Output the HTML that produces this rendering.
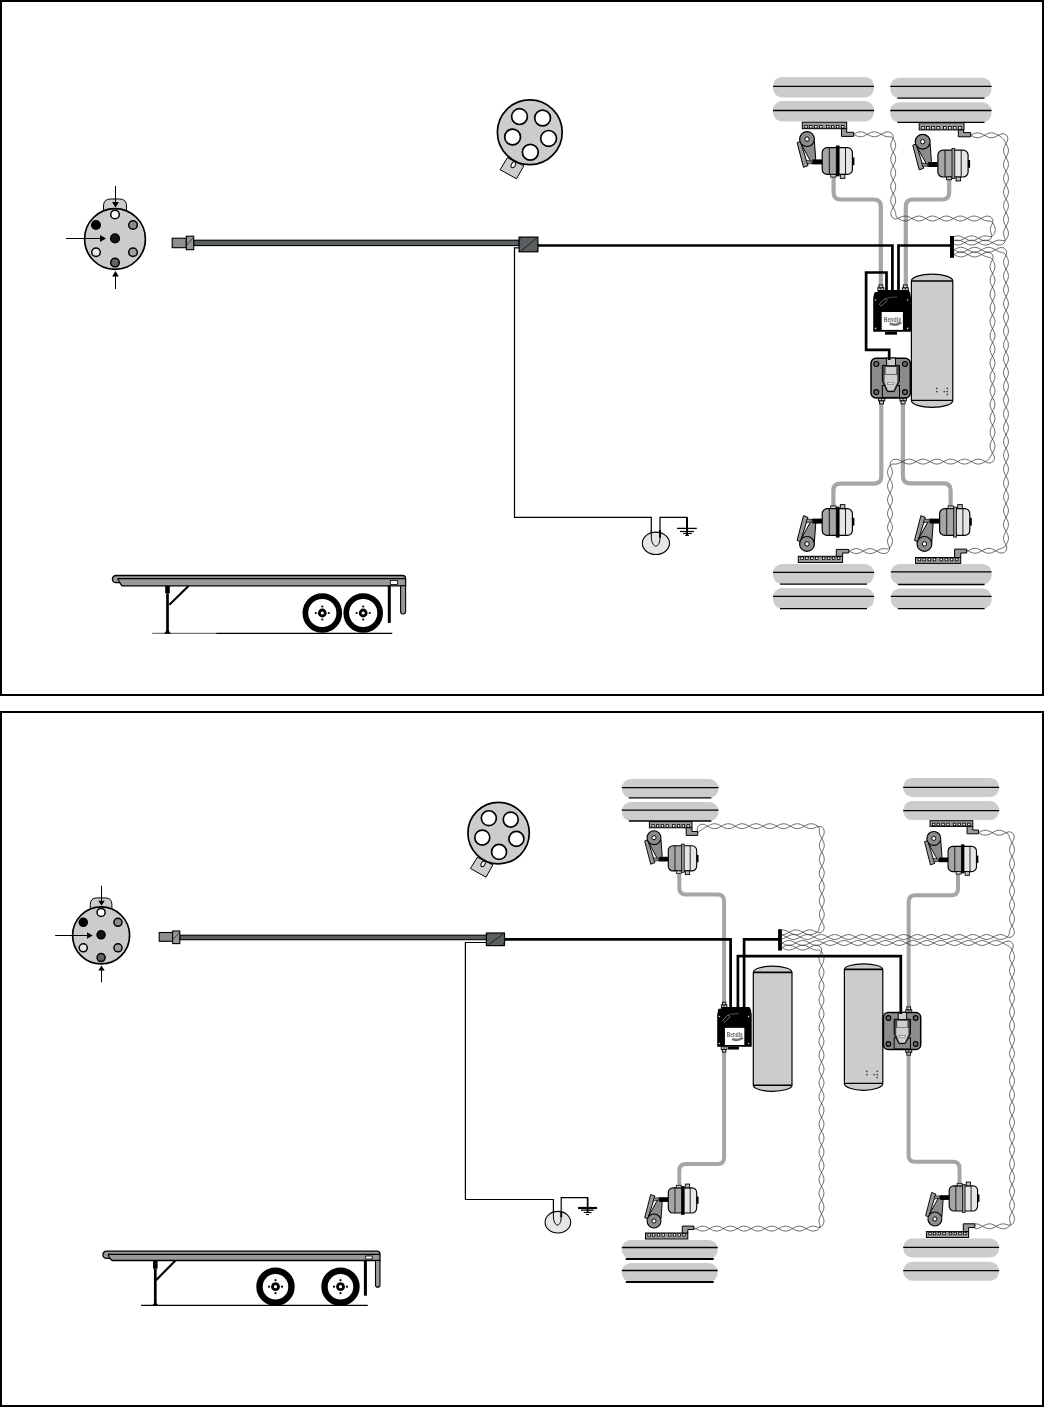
<!DOCTYPE html>
<html><head><meta charset="utf-8"><title>ABS diagram</title>
<style>html,body{margin:0;padding:0;background:#fff;}body{width:1044px;height:1407px;overflow:hidden;font-family:"Liberation Sans",sans-serif;}svg{display:block;}</style>
</head><body>
<svg width="1044" height="1407" viewBox="0 0 1044 1407">
<defs><filter id="nf" x="-20%" y="-50%" width="140%" height="200%"><feOffset dx="0" dy="0"/></filter></defs>
<rect x="0" y="0" width="1044" height="1407" fill="#fff"/>
<rect x="1" y="1" width="1042" height="694" fill="none" stroke="#000" stroke-width="2"/>
<rect x="1" y="712" width="1042" height="694" fill="none" stroke="#000" stroke-width="2"/>
<path d="M103.5 214 V206 Q103.5 199 110.5 199 H119.5 Q126.5 199 126.5 206 V214 Z" fill="#cccccc" stroke="#000" stroke-width="1"/>
<circle cx="115" cy="239" r="30.4" fill="#cccccc" stroke="#000" stroke-width="1.7"/>
<circle cx="115" cy="214.5" r="4.3" fill="#ffffff" stroke="#000" stroke-width="1.5"/>
<circle cx="96" cy="225" r="4.3" fill="#000000" stroke="#000" stroke-width="1.5"/>
<circle cx="133" cy="225" r="4.3" fill="#8c8c8c" stroke="#000" stroke-width="1.5"/>
<circle cx="96" cy="252.2" r="4.3" fill="#e8e8e8" stroke="#000" stroke-width="1.5"/>
<circle cx="133" cy="252.2" r="4.3" fill="#a0a0a0" stroke="#000" stroke-width="1.5"/>
<circle cx="115" cy="262.6" r="4.3" fill="#5f6363" stroke="#000" stroke-width="1.5"/>
<circle cx="115" cy="238.4" r="4.3" fill="#101818" stroke="#000" stroke-width="1.5"/>
<line x1="115.5" y1="186" x2="115.5" y2="203" stroke="#000" stroke-width="1"/>
<polygon points="112.1,202 118.9,202 115.5,207.5" fill="#000"/>
<line x1="66" y1="238.5" x2="101" y2="238.5" stroke="#000" stroke-width="1"/>
<polygon points="100,235.1 100,241.9 106,238.5" fill="#000"/>
<line x1="115.5" y1="289" x2="115.5" y2="275" stroke="#000" stroke-width="1"/>
<polygon points="112.1,276.5 118.9,276.5 115.5,271" fill="#000"/>
<polygon points="500.1,169.7 516.5,178.8 523.8,165.9 507.4,157.7" fill="#cccccc" stroke="#000" stroke-width="1"/>
<ellipse cx="513.4" cy="164.8" rx="3.2" ry="2" transform="rotate(-60 513.4 164.8)" fill="#fff" stroke="#000" stroke-width="0.9"/>
<circle cx="529.8" cy="132.3" r="32.4" fill="#cccccc" stroke="#000" stroke-width="1.7"/>
<circle cx="519.5" cy="116.6" r="7.9" fill="#fff" stroke="#000" stroke-width="1.7"/>
<circle cx="542.6" cy="118" r="7.9" fill="#fff" stroke="#000" stroke-width="1.7"/>
<circle cx="512.6" cy="137" r="7.9" fill="#fff" stroke="#000" stroke-width="1.7"/>
<circle cx="548.6" cy="138.4" r="7.9" fill="#fff" stroke="#000" stroke-width="1.7"/>
<circle cx="530.3" cy="152.2" r="7.9" fill="#fff" stroke="#000" stroke-width="1.7"/>
<rect x="193.7" y="240.2" width="325.4" height="5.4" fill="#5a6061" stroke="#000" stroke-width="1.1"/>
<rect x="172.2" y="238.2" width="14.1" height="9.5" fill="#8e8e8e" stroke="#000" stroke-width="1.1"/>
<rect x="186.3" y="236.2" width="7.4" height="13.5" fill="#969696" stroke="#000" stroke-width="1.1"/>
<line x1="186.8" y1="244.95" x2="193.2" y2="237.7" stroke="#000" stroke-width="0.6"/>
<rect x="519.1" y="237.1" width="18.8" height="14.7" fill="#5a6061" stroke="#000" stroke-width="1.2"/>
<line x1="521.1" y1="251" x2="536.9" y2="237.9" stroke="#000" stroke-width="0.7"/>
<line x1="519.7" y1="239.6" x2="521.6" y2="237.7" stroke="#000" stroke-width="0.5"/>
<line x1="535.4" y1="251.2" x2="537.3" y2="249.3" stroke="#000" stroke-width="0.5"/>
<path d="M519 247.8 H514.5 V517.4 H651.3 V536" fill="none" stroke="#000" stroke-width="1.2"/>
<path d="M660 536 V517.4 H687 V535.5" fill="none" stroke="#000" stroke-width="1.2"/>
<line x1="687" y1="517.4" x2="687" y2="535.5" stroke="#000" stroke-width="2"/>
<ellipse cx="655.9" cy="543.3" rx="13.6" ry="11.2" fill="#e6e6e6" stroke="#000" stroke-width="1.1"/>
<path d="M651.3 530 V537.7 C651.6 543.2 654.3 546.4 655.65 546.2 C658.5 546 660 542.2 660 537.2" fill="none" stroke="#000" stroke-width="1"/>
<line x1="660" y1="530" x2="660" y2="537.7" stroke="#000" stroke-width="1.9"/>
<line x1="677.1" y1="528.4" x2="696.8" y2="528.4" stroke="#000" stroke-width="1.3"/>
<line x1="680" y1="531.5" x2="694" y2="531.5" stroke="#000" stroke-width="1.2"/>
<line x1="683.2" y1="533.5" x2="691.9" y2="533.5" stroke="#000" stroke-width="1.1"/>
<line x1="685.2" y1="535.4" x2="689" y2="535.4" stroke="#000" stroke-width="1.1"/>
<line x1="152.2" y1="633.3" x2="216.2" y2="633.3" stroke="#777" stroke-width="1.2"/>
<line x1="216.2" y1="633.3" x2="392.3" y2="633.3" stroke="#000" stroke-width="1.3"/>
<path d="M116 575.5 H402.6 Q405.6 575.5 405.6 578.5 V585.8 H122 L119.7 582.7 H116 A3.6 3.6 0 0 1 116 575.5 Z" fill="#999999" stroke="#000" stroke-width="1.3"/>
<line x1="117.5" y1="578.6" x2="405.6" y2="578.6" stroke="#000" stroke-width="1.1"/>
<line x1="117.8" y1="578.6" x2="119.8" y2="582.7" stroke="#000" stroke-width="1.1"/>
<path d="M400.6 585.8 V611.5 A2.5 2.5 0 0 0 405.6 611.5 V585.8 Z" fill="#999999" stroke="#000" stroke-width="1.1"/>
<rect x="390.3" y="580.4" width="7.3" height="4" fill="#fff" stroke="#000" stroke-width="0.8"/>
<line x1="389.3" y1="585.8" x2="389.3" y2="622.9" stroke="#000" stroke-width="3"/>
<rect x="165.2" y="585.8" width="4.6" height="7.6" fill="#000"/>
<line x1="167.5" y1="593.4" x2="167.5" y2="631.3" stroke="#000" stroke-width="2.7"/>
<line x1="169.4" y1="604.8" x2="188.5" y2="586" stroke="#000" stroke-width="2.1"/>
<polygon points="164,633.8 171,633.8 167.5,629.3" fill="#000"/>
<circle cx="322.3" cy="613" r="16.95" fill="#fff" stroke="#000" stroke-width="5.7"/>
<circle cx="322.3" cy="613" r="4.4" fill="#000"/>
<circle cx="322.3" cy="613" r="1.6" fill="#fff"/>
<circle cx="322.3" cy="606.5" r="1.1" fill="#000"/>
<circle cx="322.3" cy="619.5" r="1.1" fill="#000"/>
<circle cx="315.8" cy="613" r="1.1" fill="#000"/>
<circle cx="328.8" cy="613" r="1.1" fill="#000"/>
<circle cx="363.2" cy="613" r="16.95" fill="#fff" stroke="#000" stroke-width="5.7"/>
<circle cx="363.2" cy="613" r="4.4" fill="#000"/>
<circle cx="363.2" cy="613" r="1.6" fill="#fff"/>
<circle cx="363.2" cy="606.5" r="1.1" fill="#000"/>
<circle cx="363.2" cy="619.5" r="1.1" fill="#000"/>
<circle cx="356.7" cy="613" r="1.1" fill="#000"/>
<circle cx="369.7" cy="613" r="1.1" fill="#000"/>
<rect x="773" y="76.9" width="101" height="20.5" rx="9" fill="#cccccc"/>
<rect x="773" y="101" width="101" height="20.5" rx="9" fill="#cccccc"/>
<line x1="773" y1="86.4" x2="874" y2="86.4" stroke="#000" stroke-width="1.3"/>
<line x1="773" y1="110.5" x2="874" y2="110.5" stroke="#000" stroke-width="1.3"/>
<rect x="890.3" y="77.8" width="101.2" height="20.4" rx="9" fill="#cccccc"/>
<rect x="890.3" y="102.2" width="101.2" height="20.1" rx="9" fill="#cccccc"/>
<line x1="890.3" y1="86.4" x2="991.5" y2="86.4" stroke="#000" stroke-width="1.3"/>
<line x1="897.3" y1="98.2" x2="984.5" y2="98.2" stroke="#000" stroke-width="1.3"/>
<line x1="890.3" y1="110.5" x2="991.5" y2="110.5" stroke="#000" stroke-width="1.3"/>
<line x1="897.3" y1="122.3" x2="984.5" y2="122.3" stroke="#000" stroke-width="1.3"/>
<rect x="773" y="564" width="101" height="20.1" rx="9" fill="#cccccc"/>
<rect x="773" y="588.1" width="101" height="20.5" rx="9" fill="#cccccc"/>
<line x1="773" y1="572.4" x2="874" y2="572.4" stroke="#000" stroke-width="1.3"/>
<line x1="780" y1="584.1" x2="867" y2="584.1" stroke="#000" stroke-width="1.3"/>
<line x1="773" y1="596.4" x2="874" y2="596.4" stroke="#000" stroke-width="1.3"/>
<line x1="780" y1="608.6" x2="867" y2="608.6" stroke="#000" stroke-width="1.3"/>
<rect x="890.8" y="563.9" width="100.8" height="20.6" rx="9" fill="#cccccc"/>
<rect x="890.8" y="588.5" width="100.8" height="20.2" rx="9" fill="#cccccc"/>
<line x1="890.8" y1="571.9" x2="991.6" y2="571.9" stroke="#000" stroke-width="1.3"/>
<line x1="897.8" y1="584.5" x2="984.6" y2="584.5" stroke="#000" stroke-width="1.3"/>
<line x1="890.8" y1="596.4" x2="991.6" y2="596.4" stroke="#000" stroke-width="1.3"/>
<line x1="897.8" y1="608.7" x2="984.6" y2="608.7" stroke="#000" stroke-width="1.3"/>
<path d="M833.6 177 L833.6 192.5 Q833.6 199.5 840.6 199.5 L873.8 199.5 Q880.8 199.5 880.8 206.5 L880.8 287" fill="none" stroke="#a6a6a6" stroke-width="4.2"/>
<path d="M949.2 179 L949.2 192.5 Q949.2 199.5 942.2 199.5 L912.8 199.5 Q905.8 199.5 905.8 206.5 L905.8 287" fill="none" stroke="#a6a6a6" stroke-width="4.2"/>
<path d="M881.3 400 L881.3 476.6 Q881.3 483.6 874.3 483.6 L840.4 483.6 Q833.4 483.6 833.4 490.6 L833.4 507" fill="none" stroke="#a6a6a6" stroke-width="4.2"/>
<path d="M902.9 400 L902.9 476.3 Q902.9 483.3 909.9 483.3 L943.6 483.3 Q950.6 483.3 950.6 490.3 L950.6 507" fill="none" stroke="#a6a6a6" stroke-width="4.2"/>
<rect x="802.3" y="122.2" width="44.4" height="6.5" fill="#999999" stroke="#000" stroke-width="1"/>
<rect x="804.8" y="125.4" width="2.6" height="2.6" fill="#fff" stroke="#000" stroke-width="0.8"/>
<rect x="809.6" y="125.4" width="2.6" height="2.6" fill="#fff" stroke="#000" stroke-width="0.8"/>
<rect x="814.6" y="125.4" width="2.6" height="2.6" fill="#fff" stroke="#000" stroke-width="0.8"/>
<rect x="819.6" y="125.4" width="2.6" height="2.6" fill="#fff" stroke="#000" stroke-width="0.8"/>
<rect x="826.4" y="125.4" width="2.6" height="2.6" fill="#fff" stroke="#000" stroke-width="0.8"/>
<rect x="831.4" y="125.4" width="2.6" height="2.6" fill="#fff" stroke="#000" stroke-width="0.8"/>
<rect x="836.4" y="125.4" width="2.6" height="2.6" fill="#fff" stroke="#000" stroke-width="0.8"/>
<rect x="841.4" y="125.4" width="2.6" height="2.6" fill="#fff" stroke="#000" stroke-width="0.8"/>
<polygon points="841.5,128.7 846.7,128.7 846.7,132.3 853.6,132.3 853.6,136.4 841.5,136.4" fill="#999999" stroke="#000" stroke-width="1"/>
<rect x="919.2" y="122.8" width="44.8" height="7.1" fill="#999999" stroke="#000" stroke-width="1"/>
<rect x="921.72" y="126.58" width="2.62" height="2.62" fill="#fff" stroke="#000" stroke-width="0.8"/>
<rect x="926.57" y="126.58" width="2.62" height="2.62" fill="#fff" stroke="#000" stroke-width="0.8"/>
<rect x="931.61" y="126.58" width="2.62" height="2.62" fill="#fff" stroke="#000" stroke-width="0.8"/>
<rect x="936.66" y="126.58" width="2.62" height="2.62" fill="#fff" stroke="#000" stroke-width="0.8"/>
<rect x="943.52" y="126.58" width="2.62" height="2.62" fill="#fff" stroke="#000" stroke-width="0.8"/>
<rect x="948.56" y="126.58" width="2.62" height="2.62" fill="#fff" stroke="#000" stroke-width="0.8"/>
<rect x="953.61" y="126.58" width="2.62" height="2.62" fill="#fff" stroke="#000" stroke-width="0.8"/>
<rect x="958.65" y="126.58" width="2.62" height="2.62" fill="#fff" stroke="#000" stroke-width="0.8"/>
<polygon points="958.3,129.9 963.6,129.9 963.6,132.6 970.7,132.6 970.7,136.8 958.3,136.8" fill="#999999" stroke="#000" stroke-width="1"/>
<rect x="798.3" y="556.3" width="44.3" height="6.2" fill="#999999" stroke="#000" stroke-width="1"/>
<rect x="800.79" y="557" width="2.59" height="2.59" fill="#fff" stroke="#000" stroke-width="0.8"/>
<rect x="805.58" y="557" width="2.59" height="2.59" fill="#fff" stroke="#000" stroke-width="0.8"/>
<rect x="810.57" y="557" width="2.59" height="2.59" fill="#fff" stroke="#000" stroke-width="0.8"/>
<rect x="815.56" y="557" width="2.59" height="2.59" fill="#fff" stroke="#000" stroke-width="0.8"/>
<rect x="822.35" y="557" width="2.59" height="2.59" fill="#fff" stroke="#000" stroke-width="0.8"/>
<rect x="827.33" y="557" width="2.59" height="2.59" fill="#fff" stroke="#000" stroke-width="0.8"/>
<rect x="832.32" y="557" width="2.59" height="2.59" fill="#fff" stroke="#000" stroke-width="0.8"/>
<rect x="837.31" y="557" width="2.59" height="2.59" fill="#fff" stroke="#000" stroke-width="0.8"/>
<polygon points="836.3,556.3 842.6,556.3 842.6,553 848.7,553 848.7,549.4 836.3,549.4" fill="#999999" stroke="#000" stroke-width="1"/>
<rect x="915.5" y="557.5" width="45.2" height="5.9" fill="#999999" stroke="#000" stroke-width="1"/>
<rect x="918.05" y="558.2" width="2.65" height="2.65" fill="#fff" stroke="#000" stroke-width="0.8"/>
<rect x="922.93" y="558.2" width="2.65" height="2.65" fill="#fff" stroke="#000" stroke-width="0.8"/>
<rect x="928.02" y="558.2" width="2.65" height="2.65" fill="#fff" stroke="#000" stroke-width="0.8"/>
<rect x="933.11" y="558.2" width="2.65" height="2.65" fill="#fff" stroke="#000" stroke-width="0.8"/>
<rect x="940.03" y="558.2" width="2.65" height="2.65" fill="#fff" stroke="#000" stroke-width="0.8"/>
<rect x="945.12" y="558.2" width="2.65" height="2.65" fill="#fff" stroke="#000" stroke-width="0.8"/>
<rect x="950.21" y="558.2" width="2.65" height="2.65" fill="#fff" stroke="#000" stroke-width="0.8"/>
<rect x="955.3" y="558.2" width="2.65" height="2.65" fill="#fff" stroke="#000" stroke-width="0.8"/>
<polygon points="954.6,557.5 960.7,557.5 960.7,553 966.7,553 966.7,549.1 954.6,549.1" fill="#999999" stroke="#000" stroke-width="1"/>
<g transform="translate(807 139.1) scale(1 1)">
<polygon points="-9.9,3.5 -6.6,2.3 1,26.5 -3.5,28.2" fill="#9a9a9a" stroke="#000" stroke-width="1"/>
<path d="M-5.6 5.6 L4.6 23.9 Q8 26.5 8.7 19.7 L7.4 1.8 Z" fill="#8c8c8c" stroke="#000" stroke-width="1"/>
<polygon points="-1,21.3 5,22 5,24.6 0,24.6" fill="#8c8c8c" stroke="#000" stroke-width="0.7"/>
<circle cx="0" cy="0" r="7.4" fill="#8c8c8c" stroke="#000" stroke-width="1.2"/>
<circle cx="0" cy="0" r="2.2" fill="#fff" stroke="#000" stroke-width="1"/>
<rect x="5.5" y="20.3" width="10.1" height="5" fill="#000"/>
<rect x="15.2" y="8.5" width="30.2" height="26.8" rx="5" fill="#e6e6e6"/>
<path d="M20.2 8.5 H30 V35.3 H20.2 Q15.2 35.3 15.2 30.3 V13.5 Q15.2 8.5 20.2 8.5 Z" fill="#a6a6a6"/>
<rect x="15.2" y="8.5" width="30.2" height="26.8" rx="5" fill="none" stroke="#000" stroke-width="1.2"/>
<line x1="22.3" y1="8.5" x2="22.3" y2="35.3" stroke="#000" stroke-width="0.9"/>
<line x1="38.5" y1="8.5" x2="38.5" y2="35.3" stroke="#000" stroke-width="0.9"/>
<rect x="29.3" y="6.8" width="2.8" height="30" fill="#000" stroke="#000" stroke-width="0.8"/>
<rect x="45.4" y="18.3" width="2" height="7.8" fill="#000"/>
<rect x="23.7" y="35.3" width="5.3" height="2.7" fill="#cccccc" stroke="#000" stroke-width="0.8"/>
<rect x="33.3" y="35.3" width="4.6" height="4" fill="#bbb" stroke="#000" stroke-width="0.9"/>
</g>
<g transform="translate(922.7 141.7) scale(1 1)">
<polygon points="-9.9,3.5 -6.6,2.3 1,26.5 -3.5,28.2" fill="#9a9a9a" stroke="#000" stroke-width="1"/>
<path d="M-5.6 5.6 L4.6 23.9 Q8 26.5 8.7 19.7 L7.4 1.8 Z" fill="#8c8c8c" stroke="#000" stroke-width="1"/>
<polygon points="-1,21.3 5,22 5,24.6 0,24.6" fill="#8c8c8c" stroke="#000" stroke-width="0.7"/>
<circle cx="0" cy="0" r="7.4" fill="#8c8c8c" stroke="#000" stroke-width="1.2"/>
<circle cx="0" cy="0" r="2.2" fill="#fff" stroke="#000" stroke-width="1"/>
<rect x="5.5" y="20.3" width="10.1" height="5" fill="#000"/>
<rect x="15.2" y="8.5" width="30.2" height="26.8" rx="5" fill="#e6e6e6"/>
<path d="M20.2 8.5 H30 V35.3 H20.2 Q15.2 35.3 15.2 30.3 V13.5 Q15.2 8.5 20.2 8.5 Z" fill="#a6a6a6"/>
<rect x="15.2" y="8.5" width="30.2" height="26.8" rx="5" fill="none" stroke="#000" stroke-width="1.2"/>
<line x1="22.3" y1="8.5" x2="22.3" y2="35.3" stroke="#000" stroke-width="0.9"/>
<line x1="38.5" y1="8.5" x2="38.5" y2="35.3" stroke="#000" stroke-width="0.9"/>
<rect x="29.3" y="6.8" width="2.8" height="30" fill="#999" stroke="#000" stroke-width="0.8"/>
<rect x="45.4" y="18.3" width="2" height="7.8" fill="#000"/>
<rect x="23.7" y="35.3" width="5.3" height="2.7" fill="#cccccc" stroke="#000" stroke-width="0.8"/>
<rect x="33.3" y="35.3" width="4.6" height="4" fill="#bbb" stroke="#000" stroke-width="0.9"/>
</g>
<g transform="translate(807 543.9) scale(1 -1)">
<polygon points="-9.9,3.5 -6.6,2.3 1,26.5 -3.5,28.2" fill="#9a9a9a" stroke="#000" stroke-width="1"/>
<path d="M-5.6 5.6 L4.6 23.9 Q8 26.5 8.7 19.7 L7.4 1.8 Z" fill="#8c8c8c" stroke="#000" stroke-width="1"/>
<polygon points="-1,21.3 5,22 5,24.6 0,24.6" fill="#8c8c8c" stroke="#000" stroke-width="0.7"/>
<circle cx="0" cy="0" r="7.4" fill="#8c8c8c" stroke="#000" stroke-width="1.2"/>
<circle cx="0" cy="0" r="2.2" fill="#fff" stroke="#000" stroke-width="1"/>
<rect x="5.5" y="20.3" width="10.1" height="5" fill="#000"/>
<rect x="15.2" y="8.5" width="30.2" height="26.8" rx="5" fill="#e6e6e6"/>
<path d="M20.2 8.5 H30 V35.3 H20.2 Q15.2 35.3 15.2 30.3 V13.5 Q15.2 8.5 20.2 8.5 Z" fill="#a6a6a6"/>
<rect x="15.2" y="8.5" width="30.2" height="26.8" rx="5" fill="none" stroke="#000" stroke-width="1.2"/>
<line x1="22.3" y1="8.5" x2="22.3" y2="35.3" stroke="#000" stroke-width="0.9"/>
<line x1="38.5" y1="8.5" x2="38.5" y2="35.3" stroke="#000" stroke-width="0.9"/>
<rect x="29.3" y="6.8" width="2.8" height="30" fill="#000" stroke="#000" stroke-width="0.8"/>
<rect x="45.4" y="18.3" width="2" height="7.8" fill="#000"/>
<rect x="23.7" y="35.3" width="5.3" height="2.7" fill="#cccccc" stroke="#000" stroke-width="0.8"/>
<rect x="33.3" y="35.3" width="4.6" height="4" fill="#bbb" stroke="#000" stroke-width="0.9"/>
</g>
<g transform="translate(924.4 543.9) scale(1 -1)">
<polygon points="-9.9,3.5 -6.6,2.3 1,26.5 -3.5,28.2" fill="#9a9a9a" stroke="#000" stroke-width="1"/>
<path d="M-5.6 5.6 L4.6 23.9 Q8 26.5 8.7 19.7 L7.4 1.8 Z" fill="#8c8c8c" stroke="#000" stroke-width="1"/>
<polygon points="-1,21.3 5,22 5,24.6 0,24.6" fill="#8c8c8c" stroke="#000" stroke-width="0.7"/>
<circle cx="0" cy="0" r="7.4" fill="#8c8c8c" stroke="#000" stroke-width="1.2"/>
<circle cx="0" cy="0" r="2.2" fill="#fff" stroke="#000" stroke-width="1"/>
<rect x="5.5" y="20.3" width="10.1" height="5" fill="#000"/>
<rect x="15.2" y="8.5" width="30.2" height="26.8" rx="5" fill="#e6e6e6"/>
<path d="M20.2 8.5 H30 V35.3 H20.2 Q15.2 35.3 15.2 30.3 V13.5 Q15.2 8.5 20.2 8.5 Z" fill="#a6a6a6"/>
<rect x="15.2" y="8.5" width="30.2" height="26.8" rx="5" fill="none" stroke="#000" stroke-width="1.2"/>
<line x1="22.3" y1="8.5" x2="22.3" y2="35.3" stroke="#000" stroke-width="0.9"/>
<line x1="38.5" y1="8.5" x2="38.5" y2="35.3" stroke="#000" stroke-width="0.9"/>
<rect x="29.3" y="6.8" width="2.8" height="30" fill="#999" stroke="#000" stroke-width="0.8"/>
<rect x="45.4" y="18.3" width="2" height="7.8" fill="#000"/>
<rect x="23.7" y="35.3" width="5.3" height="2.7" fill="#cccccc" stroke="#000" stroke-width="0.8"/>
<rect x="33.3" y="35.3" width="4.6" height="4" fill="#bbb" stroke="#000" stroke-width="0.9"/>
</g>
<path d="M911.4 281 A20.7 6.8 0 0 1 952.8 281 V400.4 A20.7 7 0 0 1 911.4 400.4 Z" fill="#cccccc" stroke="#000" stroke-width="1.2"/>
<line x1="911.4" y1="281" x2="952.8" y2="281" stroke="#000" stroke-width="1.6"/>
<line x1="911.4" y1="400.4" x2="952.8" y2="400.4" stroke="#000" stroke-width="1.4"/>
<rect x="936.2" y="387.7" width="1.2" height="1.4" fill="#111"/>
<rect x="936.2" y="390.9" width="1.2" height="1.4" fill="#111"/>
<rect x="946.6" y="387.7" width="1.2" height="1.4" fill="#111"/>
<rect x="946.6" y="390.9" width="1.2" height="1.4" fill="#111"/>
<rect x="946.6" y="393.8" width="1.2" height="1.4" fill="#111"/>
<rect x="943.6" y="390.9" width="1.2" height="1.4" fill="#111"/>
<rect x="877.85" y="287.76" width="6.06" height="2.84" fill="#cfcfcf" stroke="#000" stroke-width="0.9"/>
<line x1="880.88" y1="287.76" x2="880.88" y2="290.6" stroke="#000" stroke-width="0.7"/>
<rect x="878.98" y="284.92" width="3.79" height="2.84" fill="#cfcfcf" stroke="#000" stroke-width="0.9"/>
<rect x="902.28" y="287.76" width="6.06" height="2.84" fill="#cfcfcf" stroke="#000" stroke-width="0.9"/>
<line x1="905.32" y1="287.76" x2="905.32" y2="290.6" stroke="#000" stroke-width="0.7"/>
<rect x="903.42" y="284.92" width="3.79" height="2.84" fill="#cfcfcf" stroke="#000" stroke-width="0.9"/>
<polygon points="873.2,298.06 874.4,292.39 878.19,291.59 878.19,290.1 908.51,290.1 910,292.59 911,298.06 911,331.7 873.2,331.7" fill="#000"/>
<rect x="885.07" y="331.7" width="11.97" height="2.99" fill="#000"/>
<rect x="881.68" y="311.99" width="21.24" height="17.91" fill="#fff"/>
<text x="892.35" y="321.55" font-family="Liberation Sans, sans-serif" font-size="6.57" font-weight="bold" fill="#6a6a6a" text-anchor="middle" textLength="17.45" lengthAdjust="spacingAndGlyphs" filter="url(#nf)">Bendix</text>
<path d="M889.66 323.44 Q895.14 326.43 901.13 322.44" fill="none" stroke="#777" stroke-width="2.59"/>
<circle cx="875.59" cy="300.05" r="0.8" fill="#ddd"/>
<circle cx="907.61" cy="300.05" r="0.8" fill="#ddd"/>
<circle cx="875.59" cy="328.42" r="0.8" fill="#ddd"/>
<circle cx="907.61" cy="328.42" r="0.8" fill="#ddd"/>
<polygon points="879.18,304.03 885.17,298.56 887.16,300.55 881.18,306.02" fill="none" stroke="#bbb" stroke-width="0.6"/>
<path d="M885.17 298.56 Q888.16 297.07 897.14 297.07" fill="none" stroke="#999" stroke-width="0.5"/>
<rect x="878.4" y="397.9" width="6.4" height="3" fill="#cfcfcf" stroke="#000" stroke-width="0.9"/>
<line x1="881.6" y1="397.9" x2="881.6" y2="400.9" stroke="#000" stroke-width="0.7"/>
<rect x="879.6" y="400.9" width="4" height="3" fill="#cfcfcf" stroke="#000" stroke-width="0.9"/>
<rect x="899.9" y="397.9" width="6.4" height="3" fill="#cfcfcf" stroke="#000" stroke-width="0.9"/>
<line x1="903.1" y1="397.9" x2="903.1" y2="400.9" stroke="#000" stroke-width="0.7"/>
<rect x="901.1" y="400.9" width="4" height="3" fill="#cfcfcf" stroke="#000" stroke-width="0.9"/>
<rect x="871" y="358.2" width="39.3" height="39.7" rx="5" fill="#8c8c8c" stroke="#000" stroke-width="1.5"/>
<circle cx="876.3" cy="363.99" r="2.5" fill="#666c6c" stroke="#000" stroke-width="1.1"/>
<circle cx="905" cy="363.99" r="2.5" fill="#666c6c" stroke="#000" stroke-width="1.1"/>
<circle cx="876.3" cy="392.11" r="2.5" fill="#666c6c" stroke="#000" stroke-width="1.1"/>
<circle cx="905" cy="392.11" r="2.5" fill="#666c6c" stroke="#000" stroke-width="1.1"/>
<rect x="882.3" y="385.43" width="17.2" height="11.97" fill="#8c8c8c" stroke="#000" stroke-width="1"/>
<path d="M882.3 365.38 H899.5 V381.14 L894 391.62 H887.5 L882.3 381.14 Z" fill="#444" stroke="#000" stroke-width="1"/>
<path d="M884.5 374.66 H897.3 V382.14 L893.5 390.62 H888 L884.5 382.14 Z" fill="#cfcfcf"/>
<rect x="885.5" y="366.98" width="10.8" height="6.98" fill="#cfcfcf"/>
<rect x="886.6" y="358" width="8.9" height="7.78" fill="#cfcfcf" stroke="#000" stroke-width="1"/>
<rect x="887.5" y="382.94" width="6.5" height="1.8" fill="#fff" stroke="#444" stroke-width="0.5"/>
<path d="M538 245.5 H892.4 V292" fill="none" stroke="#000" stroke-width="2.7"/>
<path d="M951 245.5 H898.5 V292" fill="none" stroke="#000" stroke-width="2.7"/>
<path d="M886.5 292 V272.5 H866.1 V349.9 H889.2 V360" fill="none" stroke="#000" stroke-width="2.7" stroke-linejoin="miter"/>
<rect x="950" y="236" width="4" height="21.8" fill="#000"/>
<path d="M853.6 134.3 L854.9 135.01 L856.2 135.67 L857.5 136.2 L858.8 136.57 L860.1 136.74 L861.4 136.7 L862.7 136.45 L864 136.01 L865.3 135.43 L866.6 134.74 L867.9 134.02 L869.2 133.32 L870.5 132.71 L871.8 132.24 L873.1 131.94 L874.4 131.85 L875.7 131.97 L877 132.3 L878.3 132.8 L879.6 133.43 L880.9 134.13 L882.2 134.85 L883.5 135.53 L884.8 136.09 L886.1 136.5 L887.34 136.72 L888.35 136.81 L889.16 136.8 L890.02 136.78 L891.02 136.96 L892.12 137.54 L893.16 138.55 L894.01 139.84 L894.66 141.16 L895.17 142.46 L895.51 143.76 L895.65 145.06 L895.57 146.36 L895.29 147.66 L894.83 148.96 L894.23 150.26 L893.53 151.56 L892.81 152.86 L892.12 154.16 L891.53 155.46 L891.08 156.76 L890.81 158.06 L890.76 159.36 L890.91 160.66 L891.26 161.96 L891.79 163.26 L892.43 164.56 L893.14 165.86 L893.86 167.16 L894.52 168.46 L895.06 169.76 L895.45 171.06 L895.63 172.36 L895.61 173.66 L895.38 174.96 L894.95 176.26 L894.38 177.56 L893.7 178.86 L892.98 180.16 L892.28 181.46 L891.65 182.76 L891.17 184.06 L890.86 185.36 L890.75 186.66 L890.86 187.96 L891.17 189.26 L891.65 190.56 L892.28 191.86 L892.98 193.16 L893.7 194.46 L894.38 195.76 L894.95 197.06 L895.38 198.36 L895.61 199.66 L895.63 200.96 L895.45 202.26 L895.06 203.56 L894.52 204.86 L893.86 206.16 L893.14 207.46 L892.43 208.76 L891.79 210.06 L891.26 211.36 L890.92 212.72 L890.89 214.3 L891.38 216.07 L892.48 217.64 L894.08 218.67 L895.81 218.99 L897.36 218.72 L898.74 218.15 L900.03 217.47 L901.33 216.87 L902.63 216.41 L903.93 216.13 L905.23 216.05 L906.53 216.19 L907.83 216.53 L909.13 217.04 L910.43 217.68 L911.73 218.39 L913.03 219.11 L914.33 219.77 L915.63 220.33 L916.93 220.72 L918.23 220.93 L919.53 220.92 L920.83 220.7 L922.13 220.29 L923.43 219.72 L924.73 219.05 L926.03 218.33 L927.33 217.63 L928.63 217 L929.93 216.5 L931.23 216.17 L932.53 216.05 L933.83 216.14 L935.13 216.44 L936.43 216.91 L937.73 217.52 L939.03 218.22 L940.33 218.94 L941.63 219.63 L942.93 220.21 L944.23 220.65 L945.53 220.9 L946.83 220.94 L948.13 220.77 L949.43 220.4 L950.73 219.87 L952.03 219.21 L953.33 218.5 L954.63 217.79 L955.93 217.13 L957.23 216.6 L958.53 216.23 L959.83 216.06 L961.13 216.1 L962.43 216.35 L963.73 216.79 L965.03 217.37 L966.33 218.06 L967.63 218.78 L968.93 219.48 L970.23 220.09 L971.53 220.56 L972.83 220.86 L974.13 220.95 L975.43 220.83 L976.73 220.5 L978.03 220 L979.33 219.37 L980.63 218.67 L981.93 217.95 L983.23 217.27 L984.53 216.71 L985.83 216.3 L987.19 216.09 L988.76 216.23 L990.46 216.89 L991.9 218.12 L992.75 219.75 L992.9 221.43 L992.56 222.91 L991.97 224.21 L991.34 225.49 L990.83 226.79 L990.49 228.09 L990.35 229.39 L990.43 230.69 L990.71 231.99 L991.13 233.16 L991.54 234.28 L991.77 235.6 L991.55 237.1 L990.71 238.55 L989.49 239.65 L987.92 240.37 L986.45 240.69 L985.15 240.74 L983.85 240.59 L982.55 240.24 L981.25 239.71 L979.95 239.07 L978.65 238.36 L977.35 237.64 L976.05 236.98 L974.75 236.44 L973.45 236.05 L972.15 235.87 L970.85 235.89 L969.55 236.12 L968.25 236.55 L966.95 237.12 L965.65 237.8 L964.35 238.52 L963.05 239.22 L961.75 239.85 L960.45 240.33 L959.15 240.64 L957.85 240.75 L956.55 240.64 L955.25 240.33 L954 239.87 M853.6 134.3 L854.9 133.59 L856.2 132.93 L857.5 132.4 L858.8 132.03 L860.1 131.86 L861.4 131.9 L862.7 132.15 L864 132.59 L865.3 133.17 L866.6 133.86 L867.9 134.58 L869.2 135.28 L870.5 135.89 L871.8 136.36 L873.1 136.66 L874.4 136.75 L875.7 136.63 L877 136.3 L878.3 135.8 L879.6 135.17 L880.9 134.47 L882.2 133.75 L883.5 133.08 L884.8 132.51 L886.1 132.1 L887.46 131.89 L889.04 132.01 L890.74 132.64 L892.2 133.84 L893.07 135.44 L893.26 137.11 L892.94 138.6 L892.37 139.88 L891.74 141.16 L891.23 142.46 L890.89 143.76 L890.75 145.06 L890.83 146.36 L891.11 147.66 L891.57 148.96 L892.17 150.26 L892.87 151.56 L893.59 152.86 L894.28 154.16 L894.87 155.46 L895.32 156.76 L895.59 158.06 L895.64 159.36 L895.49 160.66 L895.14 161.96 L894.61 163.26 L893.97 164.56 L893.26 165.86 L892.54 167.16 L891.88 168.46 L891.34 169.76 L890.95 171.06 L890.77 172.36 L890.79 173.66 L891.02 174.96 L891.45 176.26 L892.02 177.56 L892.7 178.86 L893.42 180.16 L894.12 181.46 L894.75 182.76 L895.23 184.06 L895.54 185.36 L895.65 186.66 L895.54 187.96 L895.23 189.26 L894.75 190.56 L894.12 191.86 L893.42 193.16 L892.7 194.46 L892.02 195.76 L891.45 197.06 L891.02 198.36 L890.79 199.66 L890.77 200.96 L890.95 202.26 L891.34 203.56 L891.88 204.86 L892.54 206.16 L893.26 207.46 L893.97 208.76 L894.61 210.06 L895.14 211.36 L895.49 212.6 L895.73 213.61 L895.84 214.37 L895.9 215.12 L896.07 215.98 L896.57 216.97 L897.52 217.96 L898.72 218.82 L900.03 219.53 L901.33 220.13 L902.63 220.59 L903.93 220.87 L905.23 220.95 L906.53 220.81 L907.83 220.47 L909.13 219.96 L910.43 219.32 L911.73 218.61 L913.03 217.89 L914.33 217.23 L915.63 216.67 L916.93 216.28 L918.23 216.07 L919.53 216.08 L920.83 216.3 L922.13 216.71 L923.43 217.28 L924.73 217.95 L926.03 218.67 L927.33 219.37 L928.63 220 L929.93 220.5 L931.23 220.83 L932.53 220.95 L933.83 220.86 L935.13 220.56 L936.43 220.09 L937.73 219.48 L939.03 218.78 L940.33 218.06 L941.63 217.37 L942.93 216.79 L944.23 216.35 L945.53 216.1 L946.83 216.06 L948.13 216.23 L949.43 216.6 L950.73 217.13 L952.03 217.79 L953.33 218.5 L954.63 219.21 L955.93 219.87 L957.23 220.4 L958.53 220.77 L959.83 220.94 L961.13 220.9 L962.43 220.65 L963.73 220.21 L965.03 219.63 L966.33 218.94 L967.63 218.22 L968.93 217.52 L970.23 216.91 L971.53 216.44 L972.83 216.14 L974.13 216.05 L975.43 216.17 L976.73 216.5 L978.03 217 L979.33 217.63 L980.63 218.33 L981.93 219.05 L983.23 219.73 L984.53 220.29 L985.83 220.7 L987.06 220.93 L988.08 221.03 L988.88 221.05 L989.72 221.06 L990.7 221.26 L991.77 221.86 L992.78 222.88 L993.61 224.17 L994.26 225.49 L994.77 226.79 L995.11 228.09 L995.25 229.39 L995.17 230.69 L994.89 231.99 L994.38 233.42 L993.52 234.85 L992.34 235.95 L991.02 236.53 L989.77 236.61 L988.56 236.43 L987.57 236.14 L986.45 235.91 L985.15 235.86 L983.85 236.01 L982.55 236.36 L981.25 236.89 L979.95 237.53 L978.65 238.24 L977.35 238.96 L976.05 239.62 L974.75 240.16 L973.45 240.55 L972.15 240.73 L970.85 240.71 L969.55 240.48 L968.25 240.05 L966.95 239.48 L965.65 238.8 L964.35 238.08 L963.05 237.38 L961.75 236.75 L960.45 236.27 L959.15 235.96 L957.85 235.85 L956.55 235.96 L955.25 236.27 L954 236.73" fill="none" stroke="#2b2b2b" stroke-width="0.7" stroke-linejoin="round"/>
<path d="M970.7 135.3 L972 136.01 L973.3 136.67 L974.6 137.2 L975.9 137.57 L977.2 137.74 L978.5 137.7 L979.8 137.45 L981.1 137.01 L982.4 136.43 L983.7 135.74 L985 135.02 L986.3 134.32 L987.6 133.71 L988.9 133.24 L990.2 132.94 L991.5 132.85 L992.8 132.97 L994.1 133.3 L995.4 133.8 L996.7 134.43 L998 135.13 L999.3 135.85 L1000.5 136.54 L1001.52 137.23 L1002.17 137.85 L1002.6 138.35 L1003 138.78 L1003.5 139.32 L1004.1 140.23 L1004.73 141.3 L1005.39 142.56 L1006.11 143.86 L1006.82 145.16 L1007.46 146.46 L1007.97 147.76 L1008.31 149.06 L1008.45 150.36 L1008.37 151.66 L1008.09 152.96 L1007.63 154.26 L1007.03 155.56 L1006.33 156.86 L1005.61 158.16 L1004.92 159.46 L1004.33 160.76 L1003.88 162.06 L1003.61 163.36 L1003.56 164.66 L1003.71 165.96 L1004.06 167.26 L1004.59 168.56 L1005.23 169.86 L1005.94 171.16 L1006.66 172.46 L1007.32 173.76 L1007.86 175.06 L1008.25 176.36 L1008.43 177.66 L1008.41 178.96 L1008.18 180.26 L1007.75 181.56 L1007.18 182.86 L1006.5 184.16 L1005.78 185.46 L1005.08 186.76 L1004.45 188.06 L1003.97 189.36 L1003.66 190.66 L1003.55 191.96 L1003.66 193.26 L1003.97 194.56 L1004.45 195.86 L1005.08 197.16 L1005.78 198.46 L1006.5 199.76 L1007.18 201.06 L1007.75 202.36 L1008.18 203.66 L1008.41 204.96 L1008.43 206.26 L1008.25 207.56 L1007.86 208.86 L1007.32 210.16 L1006.66 211.46 L1005.94 212.76 L1005.23 214.06 L1004.59 215.36 L1004.06 216.66 L1003.71 217.96 L1003.56 219.26 L1003.61 220.56 L1003.88 221.86 L1004.33 223.16 L1004.92 224.46 L1005.61 225.76 L1006.33 227.06 L1007.03 228.36 L1007.63 229.66 L1008.09 230.96 L1008.37 232.26 L1008.45 233.56 L1008.31 234.86 L1007.97 236.16 L1007.42 237.58 L1006.57 238.92 L1005.41 240.01 L1004.12 240.61 L1002.89 240.72 L1001.84 240.55 L1000.89 240.33 L999.77 240.17 L998.47 240.18 L997.17 240.4 L995.87 240.81 L994.57 241.38 L993.27 242.05 L991.97 242.77 L990.67 243.47 L989.37 244.1 L988.07 244.6 L986.77 244.93 L985.47 245.05 L984.17 244.96 L982.87 244.66 L981.57 244.19 L980.27 243.58 L978.97 242.88 L977.67 242.16 L976.37 241.47 L975.07 240.89 L973.77 240.45 L972.47 240.2 L971.17 240.16 L969.87 240.33 L968.57 240.7 L967.27 241.23 L965.97 241.89 L964.67 242.6 L963.37 243.31 L962.07 243.97 L960.77 244.5 L959.47 244.87 L958.17 245.04 L956.87 245 L955.57 244.75 L954.27 244.31 L954 244.2 M970.7 135.3 L972 134.59 L973.3 133.93 L974.6 133.4 L975.9 133.03 L977.2 132.86 L978.5 132.9 L979.8 133.15 L981.1 133.59 L982.4 134.17 L983.7 134.86 L985 135.58 L986.3 136.28 L987.6 136.89 L988.9 137.36 L990.2 137.66 L991.5 137.75 L992.8 137.63 L994.1 137.3 L995.4 136.8 L996.7 136.17 L998 135.47 L999.3 134.75 L1000.7 134.1 L1002.26 133.73 L1004.08 133.89 L1005.85 134.76 L1007.16 136.28 L1007.77 138.08 L1007.72 139.71 L1007.27 141.23 L1006.61 142.56 L1005.89 143.86 L1005.18 145.16 L1004.54 146.46 L1004.03 147.76 L1003.69 149.06 L1003.55 150.36 L1003.63 151.66 L1003.91 152.96 L1004.37 154.26 L1004.97 155.56 L1005.67 156.86 L1006.39 158.16 L1007.08 159.46 L1007.67 160.76 L1008.12 162.06 L1008.39 163.36 L1008.44 164.66 L1008.29 165.96 L1007.94 167.26 L1007.41 168.56 L1006.77 169.86 L1006.06 171.16 L1005.34 172.46 L1004.68 173.76 L1004.14 175.06 L1003.75 176.36 L1003.57 177.66 L1003.59 178.96 L1003.82 180.26 L1004.25 181.56 L1004.82 182.86 L1005.5 184.16 L1006.22 185.46 L1006.92 186.76 L1007.55 188.06 L1008.03 189.36 L1008.34 190.66 L1008.45 191.96 L1008.34 193.26 L1008.03 194.56 L1007.55 195.86 L1006.92 197.16 L1006.22 198.46 L1005.5 199.76 L1004.82 201.06 L1004.25 202.36 L1003.82 203.66 L1003.59 204.96 L1003.57 206.26 L1003.75 207.56 L1004.14 208.86 L1004.68 210.16 L1005.34 211.46 L1006.06 212.76 L1006.77 214.06 L1007.41 215.36 L1007.94 216.66 L1008.29 217.96 L1008.44 219.26 L1008.39 220.56 L1008.12 221.86 L1007.67 223.16 L1007.08 224.46 L1006.39 225.76 L1005.67 227.06 L1004.97 228.36 L1004.37 229.66 L1003.91 230.96 L1003.63 232.26 L1003.55 233.56 L1003.69 234.86 L1004.03 236.16 L1004.51 237.34 L1004.96 238.57 L1005.21 239.91 L1005.02 241.43 L1004.2 242.91 L1002.86 244.06 L1001.25 244.76 L999.77 245.03 L998.47 245.02 L997.17 244.8 L995.87 244.39 L994.57 243.82 L993.27 243.15 L991.97 242.43 L990.67 241.73 L989.37 241.1 L988.07 240.6 L986.77 240.27 L985.47 240.15 L984.17 240.24 L982.87 240.54 L981.57 241.01 L980.27 241.62 L978.97 242.32 L977.67 243.04 L976.37 243.73 L975.07 244.31 L973.77 244.75 L972.47 245 L971.17 245.04 L969.87 244.87 L968.57 244.5 L967.27 243.97 L965.97 243.31 L964.67 242.6 L963.37 241.89 L962.07 241.23 L960.77 240.7 L959.47 240.33 L958.17 240.16 L956.87 240.2 L955.57 240.45 L954.27 240.89 L954 241" fill="none" stroke="#2b2b2b" stroke-width="0.7" stroke-linejoin="round"/>
<path d="M954 249.8 L955.3 250.51 L956.6 251.17 L957.9 251.7 L959.2 252.07 L960.5 252.24 L961.8 252.2 L963.1 251.95 L964.4 251.51 L965.7 250.93 L967 250.24 L968.3 249.52 L969.6 248.82 L970.9 248.21 L972.2 247.74 L973.5 247.44 L974.8 247.35 L976.1 247.47 L977.4 247.8 L978.7 248.3 L980 248.93 L981.3 249.63 L982.6 250.35 L983.9 251.03 L985.2 251.59 L986.5 252 L987.8 252.22 L989.1 252.23 L990.4 252.02 L991.7 251.63 L993 251.07 L994.3 250.41 L995.6 249.69 L996.9 248.98 L998.2 248.34 L999.5 247.83 L1000.99 247.53 L1002.59 247.63 L1004.33 248.32 L1005.78 249.63 L1006.58 251.36 L1006.67 253.11 L1006.27 254.64 L1005.61 255.96 L1004.92 257.26 L1004.33 258.56 L1003.88 259.86 L1003.61 261.16 L1003.56 262.46 L1003.71 263.76 L1004.06 265.06 L1004.59 266.36 L1005.23 267.66 L1005.94 268.96 L1006.66 270.26 L1007.32 271.56 L1007.86 272.86 L1008.25 274.16 L1008.43 275.46 L1008.41 276.76 L1008.18 278.06 L1007.75 279.36 L1007.18 280.66 L1006.5 281.96 L1005.78 283.26 L1005.08 284.56 L1004.45 285.86 L1003.97 287.16 L1003.66 288.46 L1003.55 289.76 L1003.66 291.06 L1003.97 292.36 L1004.45 293.66 L1005.08 294.96 L1005.78 296.26 L1006.5 297.56 L1007.18 298.86 L1007.75 300.16 L1008.18 301.46 L1008.41 302.76 L1008.43 304.06 L1008.25 305.36 L1007.86 306.66 L1007.32 307.96 L1006.66 309.26 L1005.94 310.56 L1005.23 311.86 L1004.59 313.16 L1004.06 314.46 L1003.71 315.76 L1003.56 317.06 L1003.61 318.36 L1003.88 319.66 L1004.33 320.96 L1004.92 322.26 L1005.61 323.56 L1006.33 324.86 L1007.03 326.16 L1007.63 327.46 L1008.09 328.76 L1008.37 330.06 L1008.45 331.36 L1008.31 332.66 L1007.97 333.96 L1007.46 335.26 L1006.82 336.56 L1006.11 337.86 L1005.39 339.16 L1004.73 340.46 L1004.17 341.76 L1003.78 343.06 L1003.57 344.36 L1003.58 345.66 L1003.8 346.96 L1004.21 348.26 L1004.77 349.56 L1005.45 350.86 L1006.17 352.16 L1006.87 353.46 L1007.5 354.76 L1008 356.06 L1008.33 357.36 L1008.45 358.66 L1008.36 359.96 L1008.06 361.26 L1007.59 362.56 L1006.98 363.86 L1006.28 365.16 L1005.56 366.46 L1004.87 367.76 L1004.29 369.06 L1003.85 370.36 L1003.6 371.66 L1003.56 372.96 L1003.73 374.26 L1004.1 375.56 L1004.63 376.86 L1005.29 378.16 L1006 379.46 L1006.71 380.76 L1007.37 382.06 L1007.9 383.36 L1008.27 384.66 L1008.44 385.96 L1008.4 387.26 L1008.15 388.56 L1007.71 389.86 L1007.13 391.16 L1006.44 392.46 L1005.72 393.76 L1005.02 395.06 L1004.41 396.36 L1003.94 397.66 L1003.64 398.96 L1003.55 400.26 L1003.67 401.56 L1004 402.86 L1004.5 404.16 L1005.13 405.46 L1005.83 406.76 L1006.55 408.06 L1007.23 409.36 L1007.79 410.66 L1008.2 411.96 L1008.42 413.26 L1008.43 414.56 L1008.22 415.86 L1007.83 417.16 L1007.27 418.46 L1006.61 419.76 L1005.89 421.06 L1005.18 422.36 L1004.54 423.66 L1004.03 424.96 L1003.69 426.26 L1003.55 427.56 L1003.63 428.86 L1003.91 430.16 L1004.37 431.46 L1004.97 432.76 L1005.67 434.06 L1006.39 435.36 L1007.08 436.66 L1007.67 437.96 L1008.12 439.26 L1008.39 440.56 L1008.44 441.86 L1008.29 443.16 L1007.94 444.46 L1007.41 445.76 L1006.77 447.06 L1006.06 448.36 L1005.34 449.66 L1004.68 450.96 L1004.14 452.26 L1003.75 453.56 L1003.57 454.86 L1003.59 456.16 L1003.82 457.46 L1004.25 458.76 L1004.82 460.06 L1005.5 461.36 L1006.22 462.66 L1006.92 463.96 L1007.55 465.26 L1008.03 466.56 L1008.34 467.86 L1008.45 469.16 L1008.34 470.46 L1008.03 471.76 L1007.55 473.06 L1006.92 474.36 L1006.22 475.66 L1005.5 476.96 L1004.82 478.26 L1004.25 479.56 L1003.82 480.86 L1003.59 482.16 L1003.57 483.46 L1003.75 484.76 L1004.14 486.06 L1004.68 487.36 L1005.34 488.66 L1006.06 489.96 L1006.77 491.26 L1007.41 492.56 L1007.94 493.86 L1008.29 495.16 L1008.44 496.46 L1008.39 497.76 L1008.12 499.06 L1007.67 500.36 L1007.08 501.66 L1006.39 502.96 L1005.67 504.26 L1004.97 505.56 L1004.37 506.86 L1003.91 508.16 L1003.63 509.46 L1003.55 510.76 L1003.69 512.06 L1004.03 513.36 L1004.54 514.66 L1005.18 515.96 L1005.89 517.26 L1006.61 518.56 L1007.27 519.86 L1007.83 521.16 L1008.22 522.46 L1008.43 523.76 L1008.42 525.06 L1008.2 526.36 L1007.79 527.66 L1007.22 528.96 L1006.55 530.26 L1005.83 531.56 L1005.13 532.86 L1004.5 534.16 L1004 535.46 L1003.67 536.76 L1003.55 538.06 L1003.64 539.36 L1003.94 540.66 L1004.41 541.96 L1005.02 543.26 L1005.72 544.56 L1006.39 545.9 L1006.79 547.45 L1006.69 549.22 L1005.87 550.96 L1004.41 552.27 L1002.66 552.95 L1001.06 553.02 L999.57 552.7 L998.27 552.17 L996.97 551.51 L995.67 550.8 L994.37 550.09 L993.07 549.43 L991.77 548.9 L990.47 548.53 L989.17 548.36 L987.87 548.4 L986.57 548.65 L985.27 549.09 L983.97 549.67 L982.67 550.36 L981.37 551.08 L980.07 551.78 L978.77 552.39 L977.47 552.86 L976.17 553.16 L974.87 553.25 L973.57 553.13 L972.27 552.8 L970.97 552.3 L969.67 551.67 L968.37 550.97 L967.07 550.25 L966.7 550.05 M954 249.8 L955.3 249.09 L956.6 248.43 L957.9 247.9 L959.2 247.53 L960.5 247.36 L961.8 247.4 L963.1 247.65 L964.4 248.09 L965.7 248.67 L967 249.36 L968.3 250.08 L969.6 250.78 L970.9 251.39 L972.2 251.86 L973.5 252.16 L974.8 252.25 L976.1 252.13 L977.4 251.8 L978.7 251.3 L980 250.67 L981.3 249.97 L982.6 249.25 L983.9 248.58 L985.2 248.01 L986.5 247.6 L987.8 247.38 L989.1 247.37 L990.4 247.58 L991.7 247.97 L993 248.53 L994.3 249.19 L995.6 249.91 L996.9 250.62 L998.2 251.26 L999.5 251.77 L1000.61 252.13 L1001.58 252.42 L1002.28 252.6 L1002.97 252.74 L1003.78 253.04 L1004.7 253.68 L1005.61 254.69 L1006.39 255.96 L1007.08 257.26 L1007.67 258.56 L1008.12 259.86 L1008.39 261.16 L1008.44 262.46 L1008.29 263.76 L1007.94 265.06 L1007.41 266.36 L1006.77 267.66 L1006.06 268.96 L1005.34 270.26 L1004.68 271.56 L1004.14 272.86 L1003.75 274.16 L1003.57 275.46 L1003.59 276.76 L1003.82 278.06 L1004.25 279.36 L1004.82 280.66 L1005.5 281.96 L1006.22 283.26 L1006.92 284.56 L1007.55 285.86 L1008.03 287.16 L1008.34 288.46 L1008.45 289.76 L1008.34 291.06 L1008.03 292.36 L1007.55 293.66 L1006.92 294.96 L1006.22 296.26 L1005.5 297.56 L1004.82 298.86 L1004.25 300.16 L1003.82 301.46 L1003.59 302.76 L1003.57 304.06 L1003.75 305.36 L1004.14 306.66 L1004.68 307.96 L1005.34 309.26 L1006.06 310.56 L1006.77 311.86 L1007.41 313.16 L1007.94 314.46 L1008.29 315.76 L1008.44 317.06 L1008.39 318.36 L1008.12 319.66 L1007.67 320.96 L1007.08 322.26 L1006.39 323.56 L1005.67 324.86 L1004.97 326.16 L1004.37 327.46 L1003.91 328.76 L1003.63 330.06 L1003.55 331.36 L1003.69 332.66 L1004.03 333.96 L1004.54 335.26 L1005.18 336.56 L1005.89 337.86 L1006.61 339.16 L1007.27 340.46 L1007.83 341.76 L1008.22 343.06 L1008.43 344.36 L1008.42 345.66 L1008.2 346.96 L1007.79 348.26 L1007.23 349.56 L1006.55 350.86 L1005.83 352.16 L1005.13 353.46 L1004.5 354.76 L1004 356.06 L1003.67 357.36 L1003.55 358.66 L1003.64 359.96 L1003.94 361.26 L1004.41 362.56 L1005.02 363.86 L1005.72 365.16 L1006.44 366.46 L1007.13 367.76 L1007.71 369.06 L1008.15 370.36 L1008.4 371.66 L1008.44 372.96 L1008.27 374.26 L1007.9 375.56 L1007.37 376.86 L1006.71 378.16 L1006 379.46 L1005.29 380.76 L1004.63 382.06 L1004.1 383.36 L1003.73 384.66 L1003.56 385.96 L1003.6 387.26 L1003.85 388.56 L1004.29 389.86 L1004.87 391.16 L1005.56 392.46 L1006.28 393.76 L1006.98 395.06 L1007.59 396.36 L1008.06 397.66 L1008.36 398.96 L1008.45 400.26 L1008.33 401.56 L1008 402.86 L1007.5 404.16 L1006.87 405.46 L1006.17 406.76 L1005.45 408.06 L1004.77 409.36 L1004.21 410.66 L1003.8 411.96 L1003.58 413.26 L1003.57 414.56 L1003.78 415.86 L1004.17 417.16 L1004.73 418.46 L1005.39 419.76 L1006.11 421.06 L1006.82 422.36 L1007.46 423.66 L1007.97 424.96 L1008.31 426.26 L1008.45 427.56 L1008.37 428.86 L1008.09 430.16 L1007.63 431.46 L1007.03 432.76 L1006.33 434.06 L1005.61 435.36 L1004.92 436.66 L1004.33 437.96 L1003.88 439.26 L1003.61 440.56 L1003.56 441.86 L1003.71 443.16 L1004.06 444.46 L1004.59 445.76 L1005.23 447.06 L1005.94 448.36 L1006.66 449.66 L1007.32 450.96 L1007.86 452.26 L1008.25 453.56 L1008.43 454.86 L1008.41 456.16 L1008.18 457.46 L1007.75 458.76 L1007.18 460.06 L1006.5 461.36 L1005.78 462.66 L1005.08 463.96 L1004.45 465.26 L1003.97 466.56 L1003.66 467.86 L1003.55 469.16 L1003.66 470.46 L1003.97 471.76 L1004.45 473.06 L1005.08 474.36 L1005.78 475.66 L1006.5 476.96 L1007.18 478.26 L1007.75 479.56 L1008.18 480.86 L1008.41 482.16 L1008.43 483.46 L1008.25 484.76 L1007.86 486.06 L1007.32 487.36 L1006.66 488.66 L1005.94 489.96 L1005.23 491.26 L1004.59 492.56 L1004.06 493.86 L1003.71 495.16 L1003.56 496.46 L1003.61 497.76 L1003.88 499.06 L1004.33 500.36 L1004.92 501.66 L1005.61 502.96 L1006.33 504.26 L1007.03 505.56 L1007.63 506.86 L1008.09 508.16 L1008.37 509.46 L1008.45 510.76 L1008.31 512.06 L1007.97 513.36 L1007.46 514.66 L1006.82 515.96 L1006.11 517.26 L1005.39 518.56 L1004.73 519.86 L1004.17 521.16 L1003.78 522.46 L1003.57 523.76 L1003.58 525.06 L1003.8 526.36 L1004.21 527.66 L1004.78 528.96 L1005.45 530.26 L1006.17 531.56 L1006.87 532.86 L1007.5 534.16 L1008 535.46 L1008.33 536.76 L1008.45 538.06 L1008.36 539.36 L1008.06 540.66 L1007.59 541.96 L1006.98 543.26 L1006.28 544.56 L1005.5 545.83 L1004.63 546.82 L1003.75 547.46 L1002.99 547.77 L1002.33 547.95 L1001.65 548.17 L1000.69 548.5 L999.57 548.9 L998.27 549.43 L996.97 550.09 L995.67 550.8 L994.37 551.51 L993.07 552.17 L991.77 552.7 L990.47 553.07 L989.17 553.24 L987.87 553.2 L986.57 552.95 L985.27 552.51 L983.97 551.93 L982.67 551.24 L981.37 550.52 L980.07 549.82 L978.77 549.21 L977.47 548.74 L976.17 548.44 L974.87 548.35 L973.57 548.47 L972.27 548.8 L970.97 549.3 L969.67 549.93 L968.37 550.63 L967.07 551.35 L966.7 551.55" fill="none" stroke="#2b2b2b" stroke-width="0.7" stroke-linejoin="round"/>
<path d="M954 254.5 L955.3 255.21 L956.6 255.87 L957.9 256.4 L959.2 256.77 L960.5 256.94 L961.8 256.9 L963.1 256.65 L964.4 256.21 L965.7 255.63 L967 254.94 L968.3 254.22 L969.6 253.52 L970.9 252.91 L972.2 252.44 L973.5 252.14 L974.8 252.05 L976.1 252.17 L977.4 252.5 L978.7 253 L980 253.63 L981.3 254.33 L982.6 255.05 L983.9 255.72 L985.2 256.29 L986.44 256.7 L987.45 256.98 L988.39 257.19 L989.1 257.31 L989.87 257.47 L990.77 257.89 L991.72 258.7 L992.59 259.85 L993.32 261.16 L993.96 262.46 L994.47 263.76 L994.81 265.06 L994.95 266.36 L994.87 267.66 L994.59 268.96 L994.13 270.26 L993.53 271.56 L992.83 272.86 L992.11 274.16 L991.42 275.46 L990.83 276.76 L990.38 278.06 L990.11 279.36 L990.06 280.66 L990.21 281.96 L990.56 283.26 L991.09 284.56 L991.73 285.86 L992.44 287.16 L993.16 288.46 L993.82 289.76 L994.36 291.06 L994.75 292.36 L994.93 293.66 L994.91 294.96 L994.68 296.26 L994.25 297.56 L993.68 298.86 L993 300.16 L992.28 301.46 L991.58 302.76 L990.95 304.06 L990.47 305.36 L990.16 306.66 L990.05 307.96 L990.16 309.26 L990.47 310.56 L990.95 311.86 L991.58 313.16 L992.28 314.46 L993 315.76 L993.68 317.06 L994.25 318.36 L994.68 319.66 L994.91 320.96 L994.93 322.26 L994.75 323.56 L994.36 324.86 L993.82 326.16 L993.16 327.46 L992.44 328.76 L991.73 330.06 L991.09 331.36 L990.56 332.66 L990.21 333.96 L990.06 335.26 L990.11 336.56 L990.38 337.86 L990.83 339.16 L991.42 340.46 L992.11 341.76 L992.83 343.06 L993.53 344.36 L994.13 345.66 L994.59 346.96 L994.87 348.26 L994.95 349.56 L994.81 350.86 L994.47 352.16 L993.96 353.46 L993.32 354.76 L992.61 356.06 L991.89 357.36 L991.23 358.66 L990.67 359.96 L990.28 361.26 L990.07 362.56 L990.08 363.86 L990.3 365.16 L990.71 366.46 L991.27 367.76 L991.95 369.06 L992.67 370.36 L993.37 371.66 L994 372.96 L994.5 374.26 L994.83 375.56 L994.95 376.86 L994.86 378.16 L994.56 379.46 L994.09 380.76 L993.48 382.06 L992.78 383.36 L992.06 384.66 L991.37 385.96 L990.79 387.26 L990.35 388.56 L990.1 389.86 L990.06 391.16 L990.23 392.46 L990.6 393.76 L991.13 395.06 L991.79 396.36 L992.5 397.66 L993.21 398.96 L993.87 400.26 L994.4 401.56 L994.77 402.86 L994.94 404.16 L994.9 405.46 L994.65 406.76 L994.21 408.06 L993.63 409.36 L992.94 410.66 L992.22 411.96 L991.52 413.26 L990.91 414.56 L990.44 415.86 L990.14 417.16 L990.05 418.46 L990.17 419.76 L990.5 421.06 L991 422.36 L991.63 423.66 L992.33 424.96 L993.05 426.26 L993.73 427.56 L994.29 428.86 L994.7 430.16 L994.92 431.46 L994.93 432.76 L994.72 434.06 L994.33 435.36 L993.77 436.66 L993.11 437.96 L992.39 439.26 L991.68 440.56 L991.04 441.86 L990.53 443.16 L990.19 444.46 L990.05 445.76 L990.13 447.06 L990.41 448.36 L990.87 449.66 L991.47 450.96 L992.17 452.26 L992.89 453.56 L993.58 454.86 L994.16 456.21 L994.4 457.89 L994.1 459.73 L993.08 461.44 L991.48 462.62 L989.82 463.03 L988.07 462.91 L986.59 462.37 L985.27 461.66 L983.97 460.94 L982.67 460.28 L981.37 459.74 L980.07 459.35 L978.77 459.17 L977.47 459.19 L976.17 459.42 L974.87 459.85 L973.57 460.42 L972.27 461.1 L970.97 461.82 L969.67 462.52 L968.37 463.15 L967.07 463.63 L965.77 463.94 L964.47 464.05 L963.17 463.94 L961.87 463.63 L960.57 463.15 L959.27 462.52 L957.97 461.82 L956.67 461.1 L955.37 460.42 L954.07 459.85 L952.77 459.42 L951.47 459.19 L950.17 459.17 L948.87 459.35 L947.57 459.74 L946.27 460.28 L944.97 460.94 L943.67 461.66 L942.37 462.37 L941.07 463.01 L939.77 463.54 L938.47 463.89 L937.17 464.04 L935.87 463.99 L934.57 463.72 L933.27 463.27 L931.97 462.68 L930.67 461.99 L929.37 461.27 L928.07 460.57 L926.77 459.97 L925.47 459.51 L924.17 459.23 L922.87 459.15 L921.57 459.29 L920.27 459.63 L918.97 460.14 L917.67 460.78 L916.37 461.49 L915.07 462.21 L913.77 462.87 L912.47 463.43 L911.17 463.82 L909.87 464.03 L908.57 464.02 L907.27 463.8 L905.97 463.39 L904.67 462.82 L903.37 462.15 L902.07 461.43 L900.77 460.73 L899.47 460.1 L898.17 459.6 L896.87 459.27 L895.51 459.16 L893.79 459.44 L892.3 460.17 L890.96 461.47 L890.23 463.1 L890.17 464.74 L890.55 466.16 L891.13 467.42 L891.71 468.69 L892.15 469.99 L892.4 471.29 L892.44 472.59 L892.27 473.89 L891.9 475.19 L891.37 476.49 L890.71 477.79 L890 479.09 L889.29 480.39 L888.63 481.69 L888.1 482.99 L887.73 484.29 L887.56 485.59 L887.6 486.89 L887.85 488.19 L888.29 489.49 L888.87 490.79 L889.56 492.09 L890.28 493.39 L890.98 494.69 L891.59 495.99 L892.06 497.29 L892.36 498.59 L892.45 499.89 L892.33 501.19 L892 502.49 L891.5 503.79 L890.87 505.09 L890.17 506.39 L889.45 507.69 L888.77 508.99 L888.21 510.29 L887.8 511.59 L887.58 512.89 L887.57 514.19 L887.78 515.49 L888.17 516.79 L888.73 518.09 L889.39 519.39 L890.11 520.69 L890.82 521.99 L891.46 523.29 L891.97 524.59 L892.31 525.89 L892.45 527.19 L892.37 528.49 L892.09 529.79 L891.63 531.09 L891.03 532.39 L890.33 533.69 L889.61 534.99 L888.92 536.29 L888.33 537.59 L887.88 538.89 L887.61 540.19 L887.56 541.49 L887.71 542.79 L888.06 544.09 L888.58 545.35 L889.12 546.57 L889.49 547.92 L889.47 549.47 L888.81 551.06 L887.55 552.37 L885.96 553.19 L884.41 553.52 L883.05 553.51 L881.75 553.28 L880.45 552.85 L879.15 552.28 L877.85 551.6 L876.55 550.88 L875.25 550.18 L873.95 549.55 L872.65 549.07 L871.35 548.76 L870.05 548.65 L868.75 548.76 L867.45 549.07 L866.15 549.55 L864.85 550.18 L863.55 550.88 L862.25 551.6 L860.95 552.28 L859.65 552.85 L858.35 553.28 L857.05 553.51 L855.75 553.53 L854.45 553.35 L853.15 552.96 L851.85 552.42 L850.55 551.76 L849.25 551.04 L848.7 550.74 M954 254.5 L955.3 253.79 L956.6 253.13 L957.9 252.6 L959.2 252.23 L960.5 252.06 L961.8 252.1 L963.1 252.35 L964.4 252.79 L965.7 253.37 L967 254.06 L968.3 254.78 L969.6 255.48 L970.9 256.09 L972.2 256.56 L973.5 256.86 L974.8 256.95 L976.1 256.83 L977.4 256.5 L978.7 256 L980 255.37 L981.3 254.67 L982.6 253.95 L983.9 253.28 L985.2 252.71 L986.56 252.3 L988.14 252.19 L989.74 252.53 L991.39 253.49 L992.58 255.02 L993.06 256.79 L992.9 258.45 L992.37 259.87 L991.68 261.16 L991.04 262.46 L990.53 263.76 L990.19 265.06 L990.05 266.36 L990.13 267.66 L990.41 268.96 L990.87 270.26 L991.47 271.56 L992.17 272.86 L992.89 274.16 L993.58 275.46 L994.17 276.76 L994.62 278.06 L994.89 279.36 L994.94 280.66 L994.79 281.96 L994.44 283.26 L993.91 284.56 L993.27 285.86 L992.56 287.16 L991.84 288.46 L991.18 289.76 L990.64 291.06 L990.25 292.36 L990.07 293.66 L990.09 294.96 L990.32 296.26 L990.75 297.56 L991.32 298.86 L992 300.16 L992.72 301.46 L993.42 302.76 L994.05 304.06 L994.53 305.36 L994.84 306.66 L994.95 307.96 L994.84 309.26 L994.53 310.56 L994.05 311.86 L993.42 313.16 L992.72 314.46 L992 315.76 L991.32 317.06 L990.75 318.36 L990.32 319.66 L990.09 320.96 L990.07 322.26 L990.25 323.56 L990.64 324.86 L991.18 326.16 L991.84 327.46 L992.56 328.76 L993.27 330.06 L993.91 331.36 L994.44 332.66 L994.79 333.96 L994.94 335.26 L994.89 336.56 L994.62 337.86 L994.17 339.16 L993.58 340.46 L992.89 341.76 L992.17 343.06 L991.47 344.36 L990.87 345.66 L990.41 346.96 L990.13 348.26 L990.05 349.56 L990.19 350.86 L990.53 352.16 L991.04 353.46 L991.68 354.76 L992.39 356.06 L993.11 357.36 L993.77 358.66 L994.33 359.96 L994.72 361.26 L994.93 362.56 L994.92 363.86 L994.7 365.16 L994.29 366.46 L993.73 367.76 L993.05 369.06 L992.33 370.36 L991.63 371.66 L991 372.96 L990.5 374.26 L990.17 375.56 L990.05 376.86 L990.14 378.16 L990.44 379.46 L990.91 380.76 L991.52 382.06 L992.22 383.36 L992.94 384.66 L993.63 385.96 L994.21 387.26 L994.65 388.56 L994.9 389.86 L994.94 391.16 L994.77 392.46 L994.4 393.76 L993.87 395.06 L993.21 396.36 L992.5 397.66 L991.79 398.96 L991.13 400.26 L990.6 401.56 L990.23 402.86 L990.06 404.16 L990.1 405.46 L990.35 406.76 L990.79 408.06 L991.37 409.36 L992.06 410.66 L992.78 411.96 L993.48 413.26 L994.09 414.56 L994.56 415.86 L994.86 417.16 L994.95 418.46 L994.83 419.76 L994.5 421.06 L994 422.36 L993.37 423.66 L992.67 424.96 L991.95 426.26 L991.27 427.56 L990.71 428.86 L990.3 430.16 L990.08 431.46 L990.07 432.76 L990.28 434.06 L990.67 435.36 L991.23 436.66 L991.89 437.96 L992.61 439.26 L993.32 440.56 L993.96 441.86 L994.47 443.16 L994.81 444.46 L994.95 445.76 L994.87 447.06 L994.59 448.36 L994.13 449.66 L993.53 450.96 L992.83 452.26 L992.11 453.56 L991.42 454.86 L990.81 456.12 L990.25 457.01 L989.79 457.66 L989.46 458.16 L989.13 458.7 L988.45 459.41 L987.67 460.11 L986.55 460.83 L985.27 461.54 L983.97 462.26 L982.67 462.92 L981.37 463.46 L980.07 463.85 L978.77 464.03 L977.47 464.01 L976.17 463.78 L974.87 463.35 L973.57 462.78 L972.27 462.1 L970.97 461.38 L969.67 460.68 L968.37 460.05 L967.07 459.57 L965.77 459.26 L964.47 459.15 L963.17 459.26 L961.87 459.57 L960.57 460.05 L959.27 460.68 L957.97 461.38 L956.67 462.1 L955.37 462.78 L954.07 463.35 L952.77 463.78 L951.47 464.01 L950.17 464.03 L948.87 463.85 L947.57 463.46 L946.27 462.92 L944.97 462.26 L943.67 461.54 L942.37 460.83 L941.07 460.19 L939.77 459.66 L938.47 459.31 L937.17 459.16 L935.87 459.21 L934.57 459.48 L933.27 459.93 L931.97 460.52 L930.67 461.21 L929.37 461.93 L928.07 462.63 L926.77 463.23 L925.47 463.69 L924.17 463.97 L922.87 464.05 L921.57 463.91 L920.27 463.57 L918.97 463.06 L917.67 462.42 L916.37 461.71 L915.07 460.99 L913.77 460.33 L912.47 459.77 L911.17 459.38 L909.87 459.17 L908.57 459.18 L907.27 459.4 L905.97 459.81 L904.67 460.38 L903.37 461.05 L902.07 461.77 L900.77 462.47 L899.47 463.1 L898.17 463.6 L896.87 463.93 L895.64 464.06 L894.77 464.05 L893.77 464.03 L892.85 464.02 L891.8 464.26 L890.69 464.94 L889.67 466.03 L888.88 467.36 L888.29 468.69 L887.85 469.99 L887.6 471.29 L887.56 472.59 L887.73 473.89 L888.1 475.19 L888.63 476.49 L889.29 477.79 L890 479.09 L890.71 480.39 L891.37 481.69 L891.9 482.99 L892.27 484.29 L892.44 485.59 L892.4 486.89 L892.15 488.19 L891.71 489.49 L891.13 490.79 L890.44 492.09 L889.72 493.39 L889.02 494.69 L888.41 495.99 L887.94 497.29 L887.64 498.59 L887.55 499.89 L887.67 501.19 L888 502.49 L888.5 503.79 L889.13 505.09 L889.83 506.39 L890.55 507.69 L891.23 508.99 L891.79 510.29 L892.2 511.59 L892.42 512.89 L892.43 514.19 L892.22 515.49 L891.83 516.79 L891.27 518.09 L890.61 519.39 L889.89 520.69 L889.18 521.99 L888.54 523.29 L888.03 524.59 L887.69 525.89 L887.55 527.19 L887.63 528.49 L887.91 529.79 L888.37 531.09 L888.97 532.39 L889.67 533.69 L890.39 534.99 L891.08 536.29 L891.67 537.59 L892.12 538.89 L892.39 540.19 L892.44 541.49 L892.29 542.79 L891.94 544.09 L891.4 545.43 L890.64 546.79 L889.6 547.96 L888.4 548.69 L887.24 548.94 L886.23 548.88 L885.32 548.74 L884.28 548.66 L883.05 548.69 L881.75 548.92 L880.45 549.35 L879.15 549.92 L877.85 550.6 L876.55 551.32 L875.25 552.02 L873.95 552.65 L872.65 553.13 L871.35 553.44 L870.05 553.55 L868.75 553.44 L867.45 553.13 L866.15 552.65 L864.85 552.02 L863.55 551.32 L862.25 550.6 L860.95 549.92 L859.65 549.35 L858.35 548.92 L857.05 548.69 L855.75 548.67 L854.45 548.85 L853.15 549.24 L851.85 549.78 L850.55 550.44 L849.25 551.16 L848.7 551.46" fill="none" stroke="#2b2b2b" stroke-width="0.7" stroke-linejoin="round"/>
<path d="M90.32 911.96 V904.46 Q90.32 897.9 96.88 897.9 H105.32 Q111.88 897.9 111.88 904.46 V911.96 Z" fill="#cccccc" stroke="#000" stroke-width="1"/>
<circle cx="101.1" cy="935.4" r="28.5" fill="#cccccc" stroke="#000" stroke-width="1.7"/>
<circle cx="101.1" cy="912.43" r="4.03" fill="#ffffff" stroke="#000" stroke-width="1.5"/>
<circle cx="83.29" cy="922.27" r="4.03" fill="#000000" stroke="#000" stroke-width="1.5"/>
<circle cx="117.97" cy="922.27" r="4.03" fill="#8c8c8c" stroke="#000" stroke-width="1.5"/>
<circle cx="83.29" cy="947.77" r="4.03" fill="#e8e8e8" stroke="#000" stroke-width="1.5"/>
<circle cx="117.97" cy="947.77" r="4.03" fill="#a0a0a0" stroke="#000" stroke-width="1.5"/>
<circle cx="101.1" cy="957.52" r="4.03" fill="#5f6363" stroke="#000" stroke-width="1.5"/>
<circle cx="101.1" cy="934.84" r="4.03" fill="#101818" stroke="#000" stroke-width="1.5"/>
<line x1="101.5" y1="885.71" x2="101.5" y2="901.65" stroke="#000" stroke-width="1"/>
<polygon points="98.31,900.71 104.69,900.71 101.5,905.87" fill="#000"/>
<line x1="55.16" y1="935.5" x2="87.97" y2="935.5" stroke="#000" stroke-width="1"/>
<polygon points="87.04,932.31 87.04,938.69 92.66,935.5" fill="#000"/>
<line x1="101.5" y1="982.27" x2="101.5" y2="969.15" stroke="#000" stroke-width="1"/>
<polygon points="98.31,970.56 104.69,970.56 101.5,965.4" fill="#000"/>
<polygon points="470.46,868.54 486,877.16 492.91,864.94 477.38,857.17" fill="#cccccc" stroke="#000" stroke-width="1"/>
<ellipse cx="483.06" cy="863.89" rx="3.03" ry="1.9" transform="rotate(-60 483.06 863.89)" fill="#fff" stroke="#000" stroke-width="0.9"/>
<circle cx="498.6" cy="833.1" r="30.7" fill="#cccccc" stroke="#000" stroke-width="1.7"/>
<circle cx="488.84" cy="818.22" r="7.49" fill="#fff" stroke="#000" stroke-width="1.7"/>
<circle cx="510.73" cy="819.55" r="7.49" fill="#fff" stroke="#000" stroke-width="1.7"/>
<circle cx="482.3" cy="837.55" r="7.49" fill="#fff" stroke="#000" stroke-width="1.7"/>
<circle cx="516.41" cy="838.88" r="7.49" fill="#fff" stroke="#000" stroke-width="1.7"/>
<circle cx="499.07" cy="851.96" r="7.49" fill="#fff" stroke="#000" stroke-width="1.7"/>
<rect x="179.8" y="935.2" width="306.6" height="4.5" fill="#5a6061" stroke="#000" stroke-width="1.1"/>
<rect x="159.2" y="932.5" width="13.4" height="8.8" fill="#8e8e8e" stroke="#000" stroke-width="1.1"/>
<rect x="172.6" y="931" width="7.2" height="12.6" fill="#969696" stroke="#000" stroke-width="1.1"/>
<line x1="173.1" y1="939.3" x2="179.3" y2="932.5" stroke="#000" stroke-width="0.6"/>
<rect x="486.4" y="933" width="18.1" height="12.6" fill="#5a6061" stroke="#000" stroke-width="1.2"/>
<line x1="488.4" y1="944.8" x2="503.5" y2="933.8" stroke="#000" stroke-width="0.7"/>
<line x1="487" y1="935.5" x2="488.9" y2="933.6" stroke="#000" stroke-width="0.5"/>
<line x1="502" y1="945" x2="503.9" y2="943.1" stroke="#000" stroke-width="0.5"/>
<path d="M486.4 942.5 H465.4 V1199.5 H553.4 V1217" fill="none" stroke="#000" stroke-width="1.2"/>
<path d="M561.2 1217 V1197.6 H587.6 V1213" fill="none" stroke="#000" stroke-width="1.2"/>
<line x1="587.6" y1="1197.6" x2="587.6" y2="1213" stroke="#000" stroke-width="1.6"/>
<ellipse cx="557.9" cy="1222.2" rx="12.8" ry="10.8" fill="#e6e6e6" stroke="#000" stroke-width="1.1"/>
<path d="M553.4 1211 V1217.21 C553.7 1222.38 556.22 1225.4 557.3 1225.2 C559.79 1225 561.2 1221.44 561.2 1216.74" fill="none" stroke="#000" stroke-width="1"/>
<line x1="561.2" y1="1211" x2="561.2" y2="1217.21" stroke="#000" stroke-width="1.9"/>
<line x1="578.1" y1="1208" x2="597.1" y2="1208" stroke="#000" stroke-width="2.2"/>
<line x1="581" y1="1210.2" x2="593.7" y2="1210.2" stroke="#000" stroke-width="1.2"/>
<line x1="583.7" y1="1212.5" x2="591.4" y2="1212.5" stroke="#000" stroke-width="1.1"/>
<line x1="586" y1="1214.5" x2="589.1" y2="1214.5" stroke="#000" stroke-width="1.1"/>
<line x1="141" y1="1305.4" x2="367.8" y2="1305.4" stroke="#000" stroke-width="1.3"/>
<path d="M106.5 1251.2 H377 Q380 1251.2 380 1254.2 V1260.5 H112.2 L109.9 1258.4 H106.5 A3.6 3.6 0 0 1 106.5 1251.2 Z" fill="#999999" stroke="#000" stroke-width="1.3"/>
<line x1="108" y1="1254.4" x2="380" y2="1254.4" stroke="#000" stroke-width="1.1"/>
<line x1="108" y1="1254.4" x2="110" y2="1258.4" stroke="#000" stroke-width="1.1"/>
<path d="M375.5 1260.5 V1284.9 A2.25 2.25 0 0 0 380 1284.9 V1260.5 Z" fill="#999999" stroke="#000" stroke-width="1.1"/>
<rect x="365.7" y="1256" width="6.5" height="3" fill="#fff" stroke="#000" stroke-width="0.8"/>
<line x1="365.4" y1="1260.5" x2="365.4" y2="1295.7" stroke="#000" stroke-width="3"/>
<rect x="153" y="1260.5" width="4.6" height="8.2" fill="#000"/>
<line x1="155.3" y1="1268.7" x2="155.3" y2="1303.4" stroke="#000" stroke-width="2.7"/>
<line x1="156" y1="1280.2" x2="175.5" y2="1260.5" stroke="#000" stroke-width="2.1"/>
<polygon points="151.8,1305.9 158.8,1305.9 155.3,1301.4" fill="#000"/>
<circle cx="275.5" cy="1286.7" r="16" fill="#fff" stroke="#000" stroke-width="6.4"/>
<circle cx="275.5" cy="1286.7" r="4.4" fill="#000"/>
<circle cx="275.5" cy="1286.7" r="1.6" fill="#fff"/>
<circle cx="275.5" cy="1280.2" r="1.1" fill="#000"/>
<circle cx="275.5" cy="1293.2" r="1.1" fill="#000"/>
<circle cx="269" cy="1286.7" r="1.1" fill="#000"/>
<circle cx="282" cy="1286.7" r="1.1" fill="#000"/>
<circle cx="340.5" cy="1286.7" r="16" fill="#fff" stroke="#000" stroke-width="6.4"/>
<circle cx="340.5" cy="1286.7" r="4.4" fill="#000"/>
<circle cx="340.5" cy="1286.7" r="1.6" fill="#fff"/>
<circle cx="340.5" cy="1280.2" r="1.1" fill="#000"/>
<circle cx="340.5" cy="1293.2" r="1.1" fill="#000"/>
<circle cx="334" cy="1286.7" r="1.1" fill="#000"/>
<circle cx="347" cy="1286.7" r="1.1" fill="#000"/>
<rect x="621.8" y="779.1" width="96.6" height="18.8" rx="9" fill="#cccccc"/>
<rect x="621.8" y="802" width="96.6" height="19" rx="9" fill="#cccccc"/>
<line x1="621.8" y1="787.6" x2="718.4" y2="787.6" stroke="#000" stroke-width="1.3"/>
<line x1="628.8" y1="797.9" x2="711.4" y2="797.9" stroke="#000" stroke-width="1.3"/>
<line x1="621.8" y1="810.1" x2="718.4" y2="810.1" stroke="#000" stroke-width="1.3"/>
<line x1="628.8" y1="821" x2="711.4" y2="821" stroke="#000" stroke-width="1.3"/>
<rect x="903.2" y="777.9" width="95.9" height="19" rx="9" fill="#cccccc"/>
<rect x="903.2" y="801.1" width="95.9" height="19" rx="9" fill="#cccccc"/>
<line x1="903.2" y1="787.4" x2="999.1" y2="787.4" stroke="#000" stroke-width="1.3"/>
<line x1="903.2" y1="810.6" x2="999.1" y2="810.6" stroke="#000" stroke-width="1.3"/>
<rect x="621.8" y="1239.9" width="95.9" height="19.1" rx="9" fill="#cccccc"/>
<rect x="621.8" y="1262.9" width="95.9" height="19.1" rx="9" fill="#cccccc"/>
<line x1="621.8" y1="1247.5" x2="717.7" y2="1247.5" stroke="#000" stroke-width="1.3"/>
<line x1="625.8" y1="1259" x2="713.7" y2="1259" stroke="#000" stroke-width="2"/>
<line x1="621.8" y1="1270.5" x2="717.7" y2="1270.5" stroke="#000" stroke-width="1.3"/>
<line x1="625.8" y1="1282" x2="713.7" y2="1282" stroke="#000" stroke-width="2"/>
<rect x="903.2" y="1238.6" width="95.9" height="18.9" rx="9" fill="#cccccc"/>
<rect x="903.2" y="1261.8" width="95.9" height="18.9" rx="9" fill="#cccccc"/>
<line x1="903.2" y1="1247.4" x2="999.1" y2="1247.4" stroke="#000" stroke-width="1.3"/>
<line x1="903.2" y1="1270.6" x2="999.1" y2="1270.6" stroke="#000" stroke-width="1.3"/>
<path d="M679.3 874 L679.3 888 Q679.3 894.5 685.8 894.5 L717.6 894.5 Q724.1 894.5 724.1 901 L724.1 1004" fill="none" stroke="#a6a6a6" stroke-width="4"/>
<path d="M958 873 L958 888.8 Q958 895.3 951.5 895.3 L915.2 895.3 Q908.7 895.3 908.7 901.8 L908.7 1008" fill="none" stroke="#a6a6a6" stroke-width="4"/>
<path d="M724.1 1050 L724.1 1157.5 Q724.1 1164 717.6 1164 L685.8 1164 Q679.3 1164 679.3 1170.5 L679.3 1186" fill="none" stroke="#a6a6a6" stroke-width="4"/>
<path d="M908.6 1052 L908.6 1155.2 Q908.6 1161.7 915.1 1161.7 L953 1161.7 Q959.5 1161.7 959.5 1168.2 L959.5 1184" fill="none" stroke="#a6a6a6" stroke-width="4"/>
<rect x="649.4" y="821.6" width="42.6" height="6.2" fill="#999999" stroke="#000" stroke-width="1"/>
<rect x="651.8" y="824.61" width="2.49" height="2.49" fill="#fff" stroke="#000" stroke-width="0.8"/>
<rect x="656.4" y="824.61" width="2.49" height="2.49" fill="#fff" stroke="#000" stroke-width="0.8"/>
<rect x="661.2" y="824.61" width="2.49" height="2.49" fill="#fff" stroke="#000" stroke-width="0.8"/>
<rect x="666" y="824.61" width="2.49" height="2.49" fill="#fff" stroke="#000" stroke-width="0.8"/>
<rect x="672.52" y="824.61" width="2.49" height="2.49" fill="#fff" stroke="#000" stroke-width="0.8"/>
<rect x="677.32" y="824.61" width="2.49" height="2.49" fill="#fff" stroke="#000" stroke-width="0.8"/>
<rect x="682.12" y="824.61" width="2.49" height="2.49" fill="#fff" stroke="#000" stroke-width="0.8"/>
<rect x="686.91" y="824.61" width="2.49" height="2.49" fill="#fff" stroke="#000" stroke-width="0.8"/>
<polygon points="686.2,827.8 692,827.8 692,831.5 697.7,831.5 697.7,835.4 686.2,835.4" fill="#999999" stroke="#000" stroke-width="1"/>
<rect x="930" y="820.7" width="42.8" height="5.7" fill="#999999" stroke="#000" stroke-width="1"/>
<rect x="932.41" y="823.19" width="2.51" height="2.51" fill="#fff" stroke="#000" stroke-width="0.8"/>
<rect x="937.04" y="823.19" width="2.51" height="2.51" fill="#fff" stroke="#000" stroke-width="0.8"/>
<rect x="941.86" y="823.19" width="2.51" height="2.51" fill="#fff" stroke="#000" stroke-width="0.8"/>
<rect x="946.68" y="823.19" width="2.51" height="2.51" fill="#fff" stroke="#000" stroke-width="0.8"/>
<rect x="953.23" y="823.19" width="2.51" height="2.51" fill="#fff" stroke="#000" stroke-width="0.8"/>
<rect x="958.05" y="823.19" width="2.51" height="2.51" fill="#fff" stroke="#000" stroke-width="0.8"/>
<rect x="962.87" y="823.19" width="2.51" height="2.51" fill="#fff" stroke="#000" stroke-width="0.8"/>
<rect x="967.69" y="823.19" width="2.51" height="2.51" fill="#fff" stroke="#000" stroke-width="0.8"/>
<polygon points="967.1,826.4 972.8,826.4 972.8,830 978.5,830 978.5,833.8 967.1,833.8" fill="#999999" stroke="#000" stroke-width="1"/>
<rect x="645.5" y="1233" width="42.3" height="6" fill="#999999" stroke="#000" stroke-width="1"/>
<rect x="647.88" y="1233.7" width="2.48" height="2.48" fill="#fff" stroke="#000" stroke-width="0.8"/>
<rect x="652.45" y="1233.7" width="2.48" height="2.48" fill="#fff" stroke="#000" stroke-width="0.8"/>
<rect x="657.22" y="1233.7" width="2.48" height="2.48" fill="#fff" stroke="#000" stroke-width="0.8"/>
<rect x="661.98" y="1233.7" width="2.48" height="2.48" fill="#fff" stroke="#000" stroke-width="0.8"/>
<rect x="668.46" y="1233.7" width="2.48" height="2.48" fill="#fff" stroke="#000" stroke-width="0.8"/>
<rect x="673.22" y="1233.7" width="2.48" height="2.48" fill="#fff" stroke="#000" stroke-width="0.8"/>
<rect x="677.99" y="1233.7" width="2.48" height="2.48" fill="#fff" stroke="#000" stroke-width="0.8"/>
<rect x="682.75" y="1233.7" width="2.48" height="2.48" fill="#fff" stroke="#000" stroke-width="0.8"/>
<polygon points="682.3,1233 687.8,1233 687.8,1229.5 693.8,1229.5 693.8,1226.1 682.3,1226.1" fill="#999999" stroke="#000" stroke-width="1"/>
<rect x="926.4" y="1231.6" width="42.2" height="5.9" fill="#999999" stroke="#000" stroke-width="1"/>
<rect x="928.78" y="1232.3" width="2.47" height="2.47" fill="#fff" stroke="#000" stroke-width="0.8"/>
<rect x="933.34" y="1232.3" width="2.47" height="2.47" fill="#fff" stroke="#000" stroke-width="0.8"/>
<rect x="938.09" y="1232.3" width="2.47" height="2.47" fill="#fff" stroke="#000" stroke-width="0.8"/>
<rect x="942.84" y="1232.3" width="2.47" height="2.47" fill="#fff" stroke="#000" stroke-width="0.8"/>
<rect x="949.31" y="1232.3" width="2.47" height="2.47" fill="#fff" stroke="#000" stroke-width="0.8"/>
<rect x="954.06" y="1232.3" width="2.47" height="2.47" fill="#fff" stroke="#000" stroke-width="0.8"/>
<rect x="958.81" y="1232.3" width="2.47" height="2.47" fill="#fff" stroke="#000" stroke-width="0.8"/>
<rect x="963.56" y="1232.3" width="2.47" height="2.47" fill="#fff" stroke="#000" stroke-width="0.8"/>
<polygon points="963.3,1231.6 968.6,1231.6 968.6,1227.6 974.9,1227.6 974.9,1223.8 963.3,1223.8" fill="#999999" stroke="#000" stroke-width="1"/>
<g transform="translate(654 837.7) scale(0.94 0.94)">
<polygon points="-9.9,3.5 -6.6,2.3 1,26.5 -3.5,28.2" fill="#9a9a9a" stroke="#000" stroke-width="1"/>
<path d="M-5.6 5.6 L4.6 23.9 Q8 26.5 8.7 19.7 L7.4 1.8 Z" fill="#8c8c8c" stroke="#000" stroke-width="1"/>
<polygon points="-1,21.3 5,22 5,24.6 0,24.6" fill="#8c8c8c" stroke="#000" stroke-width="0.7"/>
<circle cx="0" cy="0" r="7.4" fill="#8c8c8c" stroke="#000" stroke-width="1.2"/>
<circle cx="0" cy="0" r="2.2" fill="#fff" stroke="#000" stroke-width="1"/>
<rect x="5.5" y="20.3" width="10.1" height="5" fill="#000"/>
<rect x="15.2" y="8.5" width="30.2" height="26.8" rx="5" fill="#e6e6e6"/>
<path d="M20.2 8.5 H30 V35.3 H20.2 Q15.2 35.3 15.2 30.3 V13.5 Q15.2 8.5 20.2 8.5 Z" fill="#a6a6a6"/>
<rect x="15.2" y="8.5" width="30.2" height="26.8" rx="5" fill="none" stroke="#000" stroke-width="1.2"/>
<line x1="22.3" y1="8.5" x2="22.3" y2="35.3" stroke="#000" stroke-width="0.9"/>
<line x1="38.5" y1="8.5" x2="38.5" y2="35.3" stroke="#000" stroke-width="0.9"/>
<rect x="29.3" y="6.8" width="2.8" height="30" fill="#999" stroke="#000" stroke-width="0.8"/>
<rect x="45.4" y="18.3" width="2" height="7.8" fill="#000"/>
<rect x="23.7" y="35.3" width="5.3" height="2.7" fill="#cccccc" stroke="#000" stroke-width="0.8"/>
<rect x="33.3" y="35.3" width="4.6" height="4" fill="#bbb" stroke="#000" stroke-width="0.9"/>
</g>
<g transform="translate(933.8 838.4) scale(0.94 0.94)">
<polygon points="-9.9,3.5 -6.6,2.3 1,26.5 -3.5,28.2" fill="#9a9a9a" stroke="#000" stroke-width="1"/>
<path d="M-5.6 5.6 L4.6 23.9 Q8 26.5 8.7 19.7 L7.4 1.8 Z" fill="#8c8c8c" stroke="#000" stroke-width="1"/>
<polygon points="-1,21.3 5,22 5,24.6 0,24.6" fill="#8c8c8c" stroke="#000" stroke-width="0.7"/>
<circle cx="0" cy="0" r="7.4" fill="#8c8c8c" stroke="#000" stroke-width="1.2"/>
<circle cx="0" cy="0" r="2.2" fill="#fff" stroke="#000" stroke-width="1"/>
<rect x="5.5" y="20.3" width="10.1" height="5" fill="#000"/>
<rect x="15.2" y="8.5" width="30.2" height="26.8" rx="5" fill="#e6e6e6"/>
<path d="M20.2 8.5 H30 V35.3 H20.2 Q15.2 35.3 15.2 30.3 V13.5 Q15.2 8.5 20.2 8.5 Z" fill="#a6a6a6"/>
<rect x="15.2" y="8.5" width="30.2" height="26.8" rx="5" fill="none" stroke="#000" stroke-width="1.2"/>
<line x1="22.3" y1="8.5" x2="22.3" y2="35.3" stroke="#000" stroke-width="0.9"/>
<line x1="38.5" y1="8.5" x2="38.5" y2="35.3" stroke="#000" stroke-width="0.9"/>
<rect x="29.3" y="6.8" width="2.8" height="30" fill="#000" stroke="#000" stroke-width="0.8"/>
<rect x="45.4" y="18.3" width="2" height="7.8" fill="#000"/>
<rect x="23.7" y="35.3" width="5.3" height="2.7" fill="#cccccc" stroke="#000" stroke-width="0.8"/>
<rect x="33.3" y="35.3" width="4.6" height="4" fill="#bbb" stroke="#000" stroke-width="0.9"/>
</g>
<g transform="translate(654 1221) scale(0.94 -0.94)">
<polygon points="-9.9,3.5 -6.6,2.3 1,26.5 -3.5,28.2" fill="#9a9a9a" stroke="#000" stroke-width="1"/>
<path d="M-5.6 5.6 L4.6 23.9 Q8 26.5 8.7 19.7 L7.4 1.8 Z" fill="#8c8c8c" stroke="#000" stroke-width="1"/>
<polygon points="-1,21.3 5,22 5,24.6 0,24.6" fill="#8c8c8c" stroke="#000" stroke-width="0.7"/>
<circle cx="0" cy="0" r="7.4" fill="#8c8c8c" stroke="#000" stroke-width="1.2"/>
<circle cx="0" cy="0" r="2.2" fill="#fff" stroke="#000" stroke-width="1"/>
<rect x="5.5" y="20.3" width="10.1" height="5" fill="#000"/>
<rect x="15.2" y="8.5" width="30.2" height="26.8" rx="5" fill="#e6e6e6"/>
<path d="M20.2 8.5 H30 V35.3 H20.2 Q15.2 35.3 15.2 30.3 V13.5 Q15.2 8.5 20.2 8.5 Z" fill="#a6a6a6"/>
<rect x="15.2" y="8.5" width="30.2" height="26.8" rx="5" fill="none" stroke="#000" stroke-width="1.2"/>
<line x1="22.3" y1="8.5" x2="22.3" y2="35.3" stroke="#000" stroke-width="0.9"/>
<line x1="38.5" y1="8.5" x2="38.5" y2="35.3" stroke="#000" stroke-width="0.9"/>
<rect x="29.3" y="6.8" width="2.8" height="30" fill="#000" stroke="#000" stroke-width="0.8"/>
<rect x="45.4" y="18.3" width="2" height="7.8" fill="#000"/>
<rect x="23.7" y="35.3" width="5.3" height="2.7" fill="#cccccc" stroke="#000" stroke-width="0.8"/>
<rect x="33.3" y="35.3" width="4.6" height="4" fill="#bbb" stroke="#000" stroke-width="0.9"/>
</g>
<g transform="translate(934.9 1219) scale(0.94 -0.94)">
<polygon points="-9.9,3.5 -6.6,2.3 1,26.5 -3.5,28.2" fill="#9a9a9a" stroke="#000" stroke-width="1"/>
<path d="M-5.6 5.6 L4.6 23.9 Q8 26.5 8.7 19.7 L7.4 1.8 Z" fill="#8c8c8c" stroke="#000" stroke-width="1"/>
<polygon points="-1,21.3 5,22 5,24.6 0,24.6" fill="#8c8c8c" stroke="#000" stroke-width="0.7"/>
<circle cx="0" cy="0" r="7.4" fill="#8c8c8c" stroke="#000" stroke-width="1.2"/>
<circle cx="0" cy="0" r="2.2" fill="#fff" stroke="#000" stroke-width="1"/>
<rect x="5.5" y="20.3" width="10.1" height="5" fill="#000"/>
<rect x="15.2" y="8.5" width="30.2" height="26.8" rx="5" fill="#e6e6e6"/>
<path d="M20.2 8.5 H30 V35.3 H20.2 Q15.2 35.3 15.2 30.3 V13.5 Q15.2 8.5 20.2 8.5 Z" fill="#a6a6a6"/>
<rect x="15.2" y="8.5" width="30.2" height="26.8" rx="5" fill="none" stroke="#000" stroke-width="1.2"/>
<line x1="22.3" y1="8.5" x2="22.3" y2="35.3" stroke="#000" stroke-width="0.9"/>
<line x1="38.5" y1="8.5" x2="38.5" y2="35.3" stroke="#000" stroke-width="0.9"/>
<rect x="29.3" y="6.8" width="2.8" height="30" fill="#999" stroke="#000" stroke-width="0.8"/>
<rect x="45.4" y="18.3" width="2" height="7.8" fill="#000"/>
<rect x="23.7" y="35.3" width="5.3" height="2.7" fill="#cccccc" stroke="#000" stroke-width="0.8"/>
<rect x="33.3" y="35.3" width="4.6" height="4" fill="#bbb" stroke="#000" stroke-width="0.9"/>
</g>
<path d="M753.3 972.4 A19.35 6.2 0 0 1 792 972.4 V1085.2 A19.35 6.1 0 0 1 753.3 1085.2 Z" fill="#cccccc" stroke="#000" stroke-width="1.2"/>
<line x1="753.3" y1="972.4" x2="792" y2="972.4" stroke="#000" stroke-width="1.6"/>
<line x1="753.3" y1="1085.2" x2="792" y2="1085.2" stroke="#000" stroke-width="1.4"/>
<path d="M844.4 969.4 A19.2 5.5 0 0 1 882.8 969.4 V1083.4 A19.2 6.9 0 0 1 844.4 1083.4 Z" fill="#cccccc" stroke="#000" stroke-width="1.2"/>
<line x1="844.4" y1="969.4" x2="882.8" y2="969.4" stroke="#000" stroke-width="1.6"/>
<line x1="844.4" y1="1083.4" x2="882.8" y2="1083.4" stroke="#000" stroke-width="1.4"/>
<rect x="866.2" y="1070.7" width="1.2" height="1.4" fill="#111"/>
<rect x="866.2" y="1073.9" width="1.2" height="1.4" fill="#111"/>
<rect x="876.6" y="1070.7" width="1.2" height="1.4" fill="#111"/>
<rect x="876.6" y="1073.9" width="1.2" height="1.4" fill="#111"/>
<rect x="876.6" y="1076.8" width="1.2" height="1.4" fill="#111"/>
<rect x="873.6" y="1073.9" width="1.2" height="1.4" fill="#111"/>
<rect x="721.35" y="1004.81" width="5.53" height="2.59" fill="#cfcfcf" stroke="#000" stroke-width="0.9"/>
<line x1="724.12" y1="1004.81" x2="724.12" y2="1007.4" stroke="#000" stroke-width="0.7"/>
<rect x="722.39" y="1002.21" width="3.46" height="2.59" fill="#cfcfcf" stroke="#000" stroke-width="0.9"/>
<polygon points="717.2,1014.52 718.29,1009.09 721.75,1008.33 721.75,1006.9 749.42,1006.9 750.79,1009.28 751.7,1014.52 751.7,1046.7 717.2,1046.7" fill="#000"/>
<rect x="728.03" y="1046.7" width="10.92" height="2.86" fill="#000"/>
<rect x="724.94" y="1027.85" width="19.39" height="17.14" fill="#fff"/>
<text x="734.68" y="1036.99" font-family="Liberation Sans, sans-serif" font-size="6.28" font-weight="bold" fill="#6a6a6a" text-anchor="middle" textLength="15.93" lengthAdjust="spacingAndGlyphs" filter="url(#nf)">Bendix</text>
<path d="M732.22 1038.8 Q737.23 1041.65 742.69 1037.84" fill="none" stroke="#777" stroke-width="2.48"/>
<circle cx="719.38" cy="1016.42" r="0.73" fill="#ddd"/>
<circle cx="748.61" cy="1016.42" r="0.73" fill="#ddd"/>
<circle cx="719.38" cy="1043.56" r="0.73" fill="#ddd"/>
<circle cx="748.61" cy="1043.56" r="0.73" fill="#ddd"/>
<polygon points="722.66,1020.23 728.12,1014.99 729.94,1016.9 724.48,1022.13" fill="none" stroke="#bbb" stroke-width="0.6"/>
<path d="M728.12 1014.99 Q730.85 1013.57 739.05 1013.57" fill="none" stroke="#999" stroke-width="0.5"/>
<rect x="721.22" y="1046.7" width="5.76" height="2.7" fill="#cfcfcf" stroke="#000" stroke-width="0.9"/>
<line x1="724.1" y1="1046.7" x2="724.1" y2="1049.4" stroke="#000" stroke-width="0.7"/>
<rect x="722.3" y="1049.4" width="3.6" height="2.7" fill="#cfcfcf" stroke="#000" stroke-width="0.9"/>
<rect x="905.7" y="1049.4" width="6.07" height="2.85" fill="#cfcfcf" stroke="#000" stroke-width="0.9"/>
<line x1="908.74" y1="1049.4" x2="908.74" y2="1052.25" stroke="#000" stroke-width="0.7"/>
<rect x="906.84" y="1052.25" width="3.8" height="2.85" fill="#cfcfcf" stroke="#000" stroke-width="0.9"/>
<rect x="905.7" y="1009.75" width="6.07" height="2.85" fill="#cfcfcf" stroke="#000" stroke-width="0.9"/>
<line x1="908.74" y1="1009.75" x2="908.74" y2="1012.6" stroke="#000" stroke-width="0.7"/>
<rect x="906.84" y="1006.91" width="3.8" height="2.85" fill="#cfcfcf" stroke="#000" stroke-width="0.9"/>
<rect x="883.4" y="1012.6" width="37.3" height="36.8" rx="4.75" fill="#8c8c8c" stroke="#000" stroke-width="1.5"/>
<circle cx="888.43" cy="1017.96" r="2.37" fill="#666c6c" stroke="#000" stroke-width="1.1"/>
<circle cx="915.67" cy="1017.96" r="2.37" fill="#666c6c" stroke="#000" stroke-width="1.1"/>
<circle cx="888.43" cy="1044.04" r="2.37" fill="#666c6c" stroke="#000" stroke-width="1.1"/>
<circle cx="915.67" cy="1044.04" r="2.37" fill="#666c6c" stroke="#000" stroke-width="1.1"/>
<rect x="894.12" y="1037.84" width="16.32" height="11.06" fill="#8c8c8c" stroke="#000" stroke-width="1"/>
<path d="M894.12 1019.26 H910.45 V1033.87 L905.23 1043.57 H899.06 L894.12 1033.87 Z" fill="#444" stroke="#000" stroke-width="1"/>
<path d="M896.21 1027.86 H908.36 V1034.79 L904.75 1042.65 H899.53 L896.21 1034.79 Z" fill="#cfcfcf"/>
<rect x="897.16" y="1020.74" width="10.25" height="6.47" fill="#cfcfcf"/>
<rect x="898.21" y="1012.4" width="8.45" height="7.23" fill="#cfcfcf" stroke="#000" stroke-width="1"/>
<rect x="899.06" y="1035.53" width="6.17" height="1.66" fill="#fff" stroke="#444" stroke-width="0.5"/>
<path d="M504.5 939.3 H730.6 V1009" fill="none" stroke="#000" stroke-width="2.7"/>
<path d="M780 939.3 H744.1 V1009" fill="none" stroke="#000" stroke-width="2.7"/>
<path d="M737.9 1009 V956.2 H900.8 V1014" fill="none" stroke="#000" stroke-width="2.7"/>
<rect x="778.1" y="929.2" width="3.8" height="21.4" fill="#000"/>
<path d="M697.5 833 L698.68 832.1 L699.8 831.17 L700.8 830.24 L701.54 829.69 L702.15 829.27 L702.69 828.88 L703.34 828.43 L704.26 827.91 L705.56 827.33 L706.86 826.64 L708.16 825.92 L709.46 825.22 L710.76 824.61 L712.06 824.14 L713.36 823.84 L714.66 823.75 L715.96 823.87 L717.26 824.2 L718.56 824.7 L719.86 825.33 L721.16 826.03 L722.46 826.75 L723.76 827.43 L725.06 827.99 L726.36 828.4 L727.66 828.62 L728.96 828.63 L730.26 828.42 L731.56 828.03 L732.86 827.47 L734.16 826.81 L735.46 826.09 L736.76 825.38 L738.06 824.74 L739.36 824.23 L740.66 823.89 L741.96 823.75 L743.26 823.83 L744.56 824.11 L745.86 824.57 L747.16 825.17 L748.46 825.87 L749.76 826.59 L751.06 827.28 L752.36 827.87 L753.66 828.32 L754.96 828.59 L756.26 828.64 L757.56 828.49 L758.86 828.14 L760.16 827.61 L761.46 826.97 L762.76 826.26 L764.06 825.54 L765.36 824.88 L766.66 824.34 L767.96 823.95 L769.26 823.77 L770.56 823.79 L771.86 824.02 L773.16 824.45 L774.46 825.02 L775.76 825.7 L777.06 826.42 L778.36 827.12 L779.66 827.75 L780.96 828.23 L782.26 828.54 L783.56 828.65 L784.86 828.54 L786.16 828.23 L787.46 827.75 L788.76 827.12 L790.06 826.42 L791.36 825.7 L792.66 825.02 L793.96 824.45 L795.26 824.02 L796.56 823.79 L797.86 823.77 L799.16 823.95 L800.46 824.34 L801.76 824.88 L803.06 825.54 L804.36 826.26 L805.66 826.97 L806.96 827.61 L808.26 828.14 L809.56 828.49 L810.86 828.64 L812.16 828.59 L813.46 828.32 L814.76 827.87 L816.03 827.28 L817.3 826.7 L818.73 826.33 L820.37 826.42 L821.99 827.18 L823.27 828.54 L823.99 830.04 L824.24 831.76 L824.11 833.12 L823.77 834.42 L823.26 835.72 L822.62 837.02 L821.91 838.32 L821.19 839.62 L820.53 840.92 L819.97 842.22 L819.58 843.52 L819.37 844.82 L819.38 846.12 L819.6 847.42 L820.01 848.72 L820.57 850.02 L821.25 851.32 L821.97 852.62 L822.67 853.92 L823.3 855.22 L823.8 856.52 L824.13 857.82 L824.25 859.12 L824.16 860.42 L823.86 861.72 L823.39 863.02 L822.78 864.32 L822.08 865.62 L821.36 866.92 L820.67 868.22 L820.09 869.52 L819.65 870.82 L819.4 872.12 L819.36 873.42 L819.53 874.72 L819.9 876.02 L820.43 877.32 L821.09 878.62 L821.8 879.92 L822.51 881.22 L823.17 882.52 L823.7 883.82 L824.07 885.12 L824.24 886.42 L824.2 887.72 L823.95 889.02 L823.51 890.32 L822.93 891.62 L822.24 892.92 L821.52 894.22 L820.82 895.52 L820.21 896.82 L819.74 898.12 L819.44 899.42 L819.35 900.72 L819.47 902.02 L819.8 903.32 L820.3 904.62 L820.93 905.92 L821.63 907.22 L822.35 908.52 L823.03 909.82 L823.59 911.12 L824 912.42 L824.22 913.72 L824.23 915.02 L824.02 916.32 L823.63 917.62 L823.07 918.92 L822.41 920.22 L821.69 921.52 L820.98 922.82 L820.34 924.12 L819.83 925.42 L819.48 926.66 L819.26 927.51 L819.08 928.42 L818.97 929.14 L818.75 929.97 L818.2 930.91 L817.26 931.86 L816.03 932.68 L814.72 933.38 L813.42 933.97 L812.12 934.42 L810.82 934.69 L809.52 934.74 L808.22 934.59 L806.92 934.24 L805.62 933.71 L804.32 933.07 L803.02 932.36 L801.72 931.64 L800.42 930.98 L799.12 930.44 L797.82 930.05 L796.52 929.87 L795.22 929.89 L793.92 930.12 L792.62 930.55 L791.32 931.12 L790.02 931.8 L788.72 932.52 L787.42 933.22 L786.12 933.85 L784.82 934.33 L783.52 934.64 L782.22 934.75 L782 934.75 M697.5 833 L697.37 831.52 L697.3 830.07 L697.36 828.63 L697.93 826.94 L699.1 825.46 L700.75 824.49 L702.59 824.19 L704.26 824.49 L705.56 825.07 L706.86 825.76 L708.16 826.48 L709.46 827.18 L710.76 827.79 L712.06 828.26 L713.36 828.56 L714.66 828.65 L715.96 828.53 L717.26 828.2 L718.56 827.7 L719.86 827.07 L721.16 826.37 L722.46 825.65 L723.76 824.98 L725.06 824.41 L726.36 824 L727.66 823.78 L728.96 823.77 L730.26 823.98 L731.56 824.37 L732.86 824.93 L734.16 825.59 L735.46 826.31 L736.76 827.02 L738.06 827.66 L739.36 828.17 L740.66 828.51 L741.96 828.65 L743.26 828.57 L744.56 828.29 L745.86 827.83 L747.16 827.23 L748.46 826.53 L749.76 825.81 L751.06 825.12 L752.36 824.53 L753.66 824.08 L754.96 823.81 L756.26 823.76 L757.56 823.91 L758.86 824.26 L760.16 824.79 L761.46 825.43 L762.76 826.14 L764.06 826.86 L765.36 827.52 L766.66 828.06 L767.96 828.45 L769.26 828.63 L770.56 828.61 L771.86 828.38 L773.16 827.95 L774.46 827.38 L775.76 826.7 L777.06 825.98 L778.36 825.28 L779.66 824.65 L780.96 824.17 L782.26 823.86 L783.56 823.75 L784.86 823.86 L786.16 824.17 L787.46 824.65 L788.76 825.28 L790.06 825.98 L791.36 826.7 L792.66 827.38 L793.96 827.95 L795.26 828.38 L796.56 828.61 L797.86 828.63 L799.16 828.45 L800.46 828.06 L801.76 827.52 L803.06 826.86 L804.36 826.14 L805.66 825.43 L806.96 824.79 L808.26 824.26 L809.56 823.91 L810.86 823.76 L812.16 823.81 L813.46 824.08 L814.76 824.53 L816.09 825.13 L817.41 825.93 L818.49 826.96 L819.14 828.07 L819.37 829.12 L819.36 830.02 L819.34 831.02 L819.34 831.88 L819.49 833.12 L819.83 834.42 L820.34 835.72 L820.98 837.02 L821.69 838.32 L822.41 839.62 L823.07 840.92 L823.63 842.22 L824.02 843.52 L824.23 844.82 L824.22 846.12 L824 847.42 L823.59 848.72 L823.02 850.02 L822.35 851.32 L821.63 852.62 L820.93 853.92 L820.3 855.22 L819.8 856.52 L819.47 857.82 L819.35 859.12 L819.44 860.42 L819.74 861.72 L820.21 863.02 L820.82 864.32 L821.52 865.62 L822.24 866.92 L822.93 868.22 L823.51 869.52 L823.95 870.82 L824.2 872.12 L824.24 873.42 L824.07 874.72 L823.7 876.02 L823.17 877.32 L822.51 878.62 L821.8 879.92 L821.09 881.22 L820.43 882.52 L819.9 883.82 L819.53 885.12 L819.36 886.42 L819.4 887.72 L819.65 889.02 L820.09 890.32 L820.67 891.62 L821.36 892.92 L822.08 894.22 L822.78 895.52 L823.39 896.82 L823.86 898.12 L824.16 899.42 L824.25 900.72 L824.13 902.02 L823.8 903.32 L823.3 904.62 L822.67 905.92 L821.97 907.22 L821.25 908.52 L820.57 909.82 L820.01 911.12 L819.6 912.42 L819.38 913.72 L819.37 915.02 L819.58 916.32 L819.97 917.62 L820.53 918.92 L821.19 920.22 L821.91 921.52 L822.62 922.82 L823.26 924.12 L823.77 925.42 L824.1 926.78 L824.05 928.52 L823.52 930.1 L822.34 931.63 L820.69 932.59 L818.93 932.83 L817.36 932.52 L816.01 931.91 L814.72 931.22 L813.42 930.63 L812.12 930.18 L810.82 929.91 L809.52 929.86 L808.22 930.01 L806.92 930.36 L805.62 930.89 L804.32 931.53 L803.02 932.24 L801.72 932.96 L800.42 933.62 L799.12 934.16 L797.82 934.55 L796.52 934.73 L795.22 934.71 L793.92 934.48 L792.62 934.05 L791.32 933.48 L790.02 932.8 L788.72 932.08 L787.42 931.38 L786.12 930.75 L784.82 930.27 L783.52 929.96 L782.22 929.85 L782 929.85" fill="none" stroke="#2b2b2b" stroke-width="0.7" stroke-linejoin="round"/>
<path d="M978.5 832.7 L979.8 833.41 L981.1 834.07 L982.4 834.6 L983.7 834.97 L985 835.14 L986.3 835.1 L987.6 834.85 L988.9 834.41 L990.2 833.83 L991.5 833.14 L992.8 832.42 L994.1 831.72 L995.4 831.11 L996.7 830.64 L998 830.34 L999.3 830.25 L1000.6 830.37 L1001.9 830.7 L1003.2 831.2 L1004.5 831.83 L1005.8 832.53 L1007.05 833.31 L1008.03 834.18 L1008.65 835.03 L1008.96 835.77 L1009.15 836.41 L1009.39 837.08 L1009.75 838.04 L1010.17 839.16 L1010.73 840.46 L1011.39 841.76 L1012.11 843.06 L1012.82 844.36 L1013.46 845.66 L1013.97 846.96 L1014.31 848.26 L1014.45 849.56 L1014.37 850.86 L1014.09 852.16 L1013.63 853.46 L1013.03 854.76 L1012.33 856.06 L1011.61 857.36 L1010.92 858.66 L1010.33 859.96 L1009.88 861.26 L1009.61 862.56 L1009.56 863.86 L1009.71 865.16 L1010.06 866.46 L1010.59 867.76 L1011.23 869.06 L1011.94 870.36 L1012.66 871.66 L1013.32 872.96 L1013.86 874.26 L1014.25 875.56 L1014.43 876.86 L1014.41 878.16 L1014.18 879.46 L1013.75 880.76 L1013.18 882.06 L1012.5 883.36 L1011.78 884.66 L1011.08 885.96 L1010.45 887.26 L1009.97 888.56 L1009.66 889.86 L1009.55 891.16 L1009.66 892.46 L1009.97 893.76 L1010.45 895.06 L1011.08 896.36 L1011.78 897.66 L1012.5 898.96 L1013.18 900.26 L1013.75 901.56 L1014.18 902.86 L1014.41 904.16 L1014.43 905.46 L1014.25 906.76 L1013.86 908.06 L1013.32 909.36 L1012.66 910.66 L1011.94 911.96 L1011.23 913.26 L1010.59 914.56 L1010.06 915.86 L1009.71 917.16 L1009.56 918.46 L1009.61 919.76 L1009.88 921.06 L1010.33 922.36 L1010.92 923.66 L1011.61 924.96 L1012.33 926.26 L1013.03 927.56 L1013.63 928.86 L1014.09 930.16 L1014.36 931.52 L1014.24 933.26 L1013.64 934.82 L1012.42 936.29 L1010.75 937.18 L1009.02 937.35 L1007.48 937 L1006.16 936.39 L1004.87 935.73 L1003.57 935.17 L1002.27 934.78 L1000.97 934.57 L999.67 934.58 L998.37 934.8 L997.07 935.21 L995.77 935.77 L994.47 936.45 L993.17 937.17 L991.87 937.87 L990.57 938.5 L989.27 939 L987.97 939.33 L986.67 939.45 L985.37 939.36 L984.07 939.06 L982.77 938.59 L981.47 937.98 L980.17 937.28 L978.87 936.56 L977.57 935.87 L976.27 935.29 L974.97 934.85 L973.67 934.6 L972.37 934.56 L971.07 934.73 L969.77 935.1 L968.47 935.63 L967.17 936.29 L965.87 937 L964.57 937.71 L963.27 938.37 L961.97 938.9 L960.67 939.27 L959.37 939.44 L958.07 939.4 L956.77 939.15 L955.47 938.71 L954.17 938.13 L952.87 937.44 L951.57 936.72 L950.27 936.02 L948.97 935.41 L947.67 934.94 L946.37 934.64 L945.07 934.55 L943.77 934.67 L942.47 935 L941.17 935.5 L939.87 936.13 L938.57 936.83 L937.27 937.55 L935.97 938.23 L934.67 938.79 L933.37 939.2 L932.07 939.42 L930.77 939.43 L929.47 939.22 L928.17 938.83 L926.87 938.27 L925.57 937.61 L924.27 936.89 L922.97 936.18 L921.67 935.54 L920.37 935.03 L919.07 934.69 L917.77 934.55 L916.47 934.63 L915.17 934.91 L913.87 935.37 L912.57 935.97 L911.27 936.67 L909.97 937.39 L908.67 938.08 L907.37 938.67 L906.07 939.12 L904.77 939.39 L903.47 939.44 L902.17 939.29 L900.87 938.94 L899.57 938.41 L898.27 937.77 L896.97 937.06 L895.67 936.34 L894.37 935.68 L893.07 935.14 L891.77 934.75 L890.47 934.57 L889.17 934.59 L887.87 934.82 L886.57 935.25 L885.27 935.82 L883.97 936.5 L882.67 937.22 L881.37 937.92 L880.07 938.55 L878.77 939.03 L877.47 939.34 L876.17 939.45 L874.87 939.34 L873.57 939.03 L872.27 938.55 L870.97 937.92 L869.67 937.22 L868.37 936.5 L867.07 935.82 L865.77 935.25 L864.47 934.82 L863.17 934.59 L861.87 934.57 L860.57 934.75 L859.27 935.14 L857.97 935.68 L856.67 936.34 L855.37 937.06 L854.07 937.77 L852.77 938.41 L851.47 938.94 L850.17 939.29 L848.87 939.44 L847.57 939.39 L846.27 939.12 L844.97 938.67 L843.67 938.08 L842.37 937.39 L841.07 936.67 L839.77 935.97 L838.47 935.37 L837.17 934.91 L835.87 934.63 L834.57 934.55 L833.27 934.69 L831.97 935.03 L830.67 935.54 L829.37 936.18 L828.07 936.89 L826.77 937.61 L825.47 938.27 L824.17 938.83 L822.87 939.22 L821.57 939.43 L820.27 939.42 L818.97 939.2 L817.67 938.79 L816.37 938.22 L815.07 937.55 L813.77 936.83 L812.47 936.13 L811.17 935.5 L809.87 935 L808.57 934.67 L807.27 934.55 L805.97 934.64 L804.67 934.94 L803.37 935.41 L802.07 936.02 L800.77 936.72 L799.47 937.44 L798.17 938.13 L796.87 938.71 L795.57 939.15 L794.27 939.4 L792.97 939.44 L791.67 939.27 L790.37 938.9 L789.07 938.37 L787.77 937.71 L786.47 937 L785.17 936.29 L783.87 935.63 L782.57 935.1 L782 934.91 M978.5 832.7 L979.8 831.99 L981.1 831.33 L982.4 830.8 L983.7 830.43 L985 830.26 L986.3 830.3 L987.6 830.55 L988.9 830.99 L990.2 831.57 L991.5 832.26 L992.8 832.98 L994.1 833.68 L995.4 834.29 L996.7 834.76 L998 835.06 L999.3 835.15 L1000.6 835.03 L1001.9 834.7 L1003.2 834.2 L1004.5 833.57 L1005.8 832.87 L1007.14 832.21 L1008.71 831.83 L1010.49 831.96 L1012.22 832.82 L1013.51 834.31 L1014.14 836.08 L1014.18 837.68 L1013.83 839.16 L1013.27 840.46 L1012.61 841.76 L1011.89 843.06 L1011.18 844.36 L1010.54 845.66 L1010.03 846.96 L1009.69 848.26 L1009.55 849.56 L1009.63 850.86 L1009.91 852.16 L1010.37 853.46 L1010.97 854.76 L1011.67 856.06 L1012.39 857.36 L1013.08 858.66 L1013.67 859.96 L1014.12 861.26 L1014.39 862.56 L1014.44 863.86 L1014.29 865.16 L1013.94 866.46 L1013.41 867.76 L1012.77 869.06 L1012.06 870.36 L1011.34 871.66 L1010.68 872.96 L1010.14 874.26 L1009.75 875.56 L1009.57 876.86 L1009.59 878.16 L1009.82 879.46 L1010.25 880.76 L1010.82 882.06 L1011.5 883.36 L1012.22 884.66 L1012.92 885.96 L1013.55 887.26 L1014.03 888.56 L1014.34 889.86 L1014.45 891.16 L1014.34 892.46 L1014.03 893.76 L1013.55 895.06 L1012.92 896.36 L1012.22 897.66 L1011.5 898.96 L1010.82 900.26 L1010.25 901.56 L1009.82 902.86 L1009.59 904.16 L1009.57 905.46 L1009.75 906.76 L1010.14 908.06 L1010.68 909.36 L1011.34 910.66 L1012.06 911.96 L1012.77 913.26 L1013.41 914.56 L1013.94 915.86 L1014.29 917.16 L1014.44 918.46 L1014.39 919.76 L1014.12 921.06 L1013.67 922.36 L1013.08 923.66 L1012.39 924.96 L1011.67 926.26 L1010.97 927.56 L1010.37 928.86 L1009.91 930.16 L1009.62 931.4 L1009.45 932.25 L1009.32 933.18 L1009.25 933.95 L1009.02 934.83 L1008.44 935.82 L1007.45 936.78 L1006.19 937.6 L1004.87 938.27 L1003.57 938.83 L1002.27 939.22 L1000.97 939.43 L999.67 939.42 L998.37 939.2 L997.07 938.79 L995.77 938.23 L994.47 937.55 L993.17 936.83 L991.87 936.13 L990.57 935.5 L989.27 935 L987.97 934.67 L986.67 934.55 L985.37 934.64 L984.07 934.94 L982.77 935.41 L981.47 936.02 L980.17 936.72 L978.87 937.44 L977.57 938.13 L976.27 938.71 L974.97 939.15 L973.67 939.4 L972.37 939.44 L971.07 939.27 L969.77 938.9 L968.47 938.37 L967.17 937.71 L965.87 937 L964.57 936.29 L963.27 935.63 L961.97 935.1 L960.67 934.73 L959.37 934.56 L958.07 934.6 L956.77 934.85 L955.47 935.29 L954.17 935.87 L952.87 936.56 L951.57 937.28 L950.27 937.98 L948.97 938.59 L947.67 939.06 L946.37 939.36 L945.07 939.45 L943.77 939.33 L942.47 939 L941.17 938.5 L939.87 937.87 L938.57 937.17 L937.27 936.45 L935.97 935.77 L934.67 935.21 L933.37 934.8 L932.07 934.58 L930.77 934.57 L929.47 934.78 L928.17 935.17 L926.87 935.73 L925.57 936.39 L924.27 937.11 L922.97 937.82 L921.67 938.46 L920.37 938.97 L919.07 939.31 L917.77 939.45 L916.47 939.37 L915.17 939.09 L913.87 938.63 L912.57 938.03 L911.27 937.33 L909.97 936.61 L908.67 935.92 L907.37 935.33 L906.07 934.88 L904.77 934.61 L903.47 934.56 L902.17 934.71 L900.87 935.06 L899.57 935.59 L898.27 936.23 L896.97 936.94 L895.67 937.66 L894.37 938.32 L893.07 938.86 L891.77 939.25 L890.47 939.43 L889.17 939.41 L887.87 939.18 L886.57 938.75 L885.27 938.18 L883.97 937.5 L882.67 936.78 L881.37 936.08 L880.07 935.45 L878.77 934.97 L877.47 934.66 L876.17 934.55 L874.87 934.66 L873.57 934.97 L872.27 935.45 L870.97 936.08 L869.67 936.78 L868.37 937.5 L867.07 938.18 L865.77 938.75 L864.47 939.18 L863.17 939.41 L861.87 939.43 L860.57 939.25 L859.27 938.86 L857.97 938.32 L856.67 937.66 L855.37 936.94 L854.07 936.23 L852.77 935.59 L851.47 935.06 L850.17 934.71 L848.87 934.56 L847.57 934.61 L846.27 934.88 L844.97 935.33 L843.67 935.92 L842.37 936.61 L841.07 937.33 L839.77 938.03 L838.47 938.63 L837.17 939.09 L835.87 939.37 L834.57 939.45 L833.27 939.31 L831.97 938.97 L830.67 938.46 L829.37 937.82 L828.07 937.11 L826.77 936.39 L825.47 935.73 L824.17 935.17 L822.87 934.78 L821.57 934.57 L820.27 934.58 L818.97 934.8 L817.67 935.21 L816.37 935.78 L815.07 936.45 L813.77 937.17 L812.47 937.87 L811.17 938.5 L809.87 939 L808.57 939.33 L807.27 939.45 L805.97 939.36 L804.67 939.06 L803.37 938.59 L802.07 937.98 L800.77 937.28 L799.47 936.56 L798.17 935.87 L796.87 935.29 L795.57 934.85 L794.27 934.6 L792.97 934.56 L791.67 934.73 L790.37 935.1 L789.07 935.63 L787.77 936.29 L786.47 937 L785.17 937.71 L783.87 938.37 L782.57 938.9 L782 939.09" fill="none" stroke="#2b2b2b" stroke-width="0.7" stroke-linejoin="round"/>
<path d="M782 943 L783.3 943.71 L784.6 944.37 L785.9 944.9 L787.2 945.27 L788.5 945.44 L789.8 945.4 L791.1 945.15 L792.4 944.71 L793.7 944.13 L795 943.44 L796.3 942.72 L797.6 942.02 L798.9 941.41 L800.2 940.94 L801.5 940.64 L802.8 940.55 L804.1 940.67 L805.4 941 L806.7 941.5 L808 942.13 L809.3 942.83 L810.6 943.55 L811.9 944.23 L813.2 944.79 L814.5 945.2 L815.8 945.42 L817.1 945.43 L818.4 945.22 L819.7 944.83 L821 944.27 L822.3 943.61 L823.6 942.89 L824.9 942.18 L826.2 941.54 L827.5 941.03 L828.8 940.69 L830.1 940.55 L831.4 940.63 L832.7 940.91 L834 941.37 L835.3 941.97 L836.6 942.67 L837.9 943.39 L839.2 944.08 L840.5 944.67 L841.8 945.12 L843.1 945.39 L844.4 945.44 L845.7 945.29 L847 944.94 L848.3 944.41 L849.6 943.77 L850.9 943.06 L852.2 942.34 L853.5 941.68 L854.8 941.14 L856.1 940.75 L857.4 940.57 L858.7 940.59 L860 940.82 L861.3 941.25 L862.6 941.82 L863.9 942.5 L865.2 943.22 L866.5 943.92 L867.8 944.55 L869.1 945.03 L870.4 945.34 L871.7 945.45 L873 945.34 L874.3 945.03 L875.6 944.55 L876.9 943.92 L878.2 943.22 L879.5 942.5 L880.8 941.82 L882.1 941.25 L883.4 940.82 L884.7 940.59 L886 940.57 L887.3 940.75 L888.6 941.14 L889.9 941.68 L891.2 942.34 L892.5 943.06 L893.8 943.77 L895.1 944.41 L896.4 944.94 L897.7 945.29 L899 945.44 L900.3 945.39 L901.6 945.12 L902.9 944.67 L904.2 944.08 L905.5 943.39 L906.8 942.67 L908.1 941.97 L909.4 941.37 L910.7 940.91 L912 940.63 L913.3 940.55 L914.6 940.69 L915.9 941.03 L917.2 941.54 L918.5 942.18 L919.8 942.89 L921.1 943.61 L922.4 944.27 L923.7 944.83 L925 945.22 L926.3 945.43 L927.6 945.42 L928.9 945.2 L930.2 944.79 L931.5 944.23 L932.8 943.55 L934.1 942.83 L935.4 942.13 L936.7 941.5 L938 941 L939.3 940.67 L940.6 940.55 L941.9 940.64 L943.2 940.94 L944.5 941.41 L945.8 942.02 L947.1 942.72 L948.4 943.44 L949.7 944.13 L951 944.71 L952.3 945.15 L953.6 945.4 L954.9 945.44 L956.2 945.27 L957.5 944.9 L958.8 944.37 L960.1 943.71 L961.4 943 L962.7 942.29 L964 941.63 L965.3 941.1 L966.6 940.73 L967.9 940.56 L969.2 940.6 L970.5 940.85 L971.8 941.29 L973.1 941.87 L974.4 942.56 L975.7 943.28 L977 943.98 L978.3 944.59 L979.6 945.06 L980.9 945.36 L982.2 945.45 L983.5 945.33 L984.8 945 L986.1 944.5 L987.4 943.87 L988.7 943.17 L990 942.45 L991.3 941.77 L992.6 941.21 L993.9 940.8 L995.2 940.58 L996.5 940.57 L997.8 940.78 L999.1 941.17 L1000.4 941.73 L1001.7 942.39 L1003 943.11 L1004.3 943.82 L1005.6 944.46 L1006.74 945 L1007.54 945.46 L1008.33 945.91 L1008.86 946.21 L1009.44 946.56 L1010.15 947.14 L1010.92 948.05 L1011.67 949.26 L1012.39 950.56 L1013.08 951.86 L1013.67 953.16 L1014.12 954.46 L1014.39 955.76 L1014.44 957.06 L1014.29 958.36 L1013.94 959.66 L1013.41 960.96 L1012.77 962.26 L1012.06 963.56 L1011.34 964.86 L1010.68 966.16 L1010.14 967.46 L1009.75 968.76 L1009.57 970.06 L1009.59 971.36 L1009.82 972.66 L1010.25 973.96 L1010.82 975.26 L1011.5 976.56 L1012.22 977.86 L1012.92 979.16 L1013.55 980.46 L1014.03 981.76 L1014.34 983.06 L1014.45 984.36 L1014.34 985.66 L1014.03 986.96 L1013.55 988.26 L1012.92 989.56 L1012.22 990.86 L1011.5 992.16 L1010.82 993.46 L1010.25 994.76 L1009.82 996.06 L1009.59 997.36 L1009.57 998.66 L1009.75 999.96 L1010.14 1001.26 L1010.68 1002.56 L1011.34 1003.86 L1012.06 1005.16 L1012.77 1006.46 L1013.41 1007.76 L1013.94 1009.06 L1014.29 1010.36 L1014.44 1011.66 L1014.39 1012.96 L1014.12 1014.26 L1013.67 1015.56 L1013.08 1016.86 L1012.39 1018.16 L1011.67 1019.46 L1010.97 1020.76 L1010.37 1022.06 L1009.91 1023.36 L1009.63 1024.66 L1009.55 1025.96 L1009.69 1027.26 L1010.03 1028.56 L1010.54 1029.86 L1011.18 1031.16 L1011.89 1032.46 L1012.61 1033.76 L1013.27 1035.06 L1013.83 1036.36 L1014.22 1037.66 L1014.43 1038.96 L1014.42 1040.26 L1014.2 1041.56 L1013.79 1042.86 L1013.22 1044.16 L1012.55 1045.46 L1011.83 1046.76 L1011.13 1048.06 L1010.5 1049.36 L1010 1050.66 L1009.67 1051.96 L1009.55 1053.26 L1009.64 1054.56 L1009.94 1055.86 L1010.41 1057.16 L1011.02 1058.46 L1011.72 1059.76 L1012.44 1061.06 L1013.13 1062.36 L1013.71 1063.66 L1014.15 1064.96 L1014.4 1066.26 L1014.44 1067.56 L1014.27 1068.86 L1013.9 1070.16 L1013.37 1071.46 L1012.71 1072.76 L1012 1074.06 L1011.29 1075.36 L1010.63 1076.66 L1010.1 1077.96 L1009.73 1079.26 L1009.56 1080.56 L1009.6 1081.86 L1009.85 1083.16 L1010.29 1084.46 L1010.87 1085.76 L1011.56 1087.06 L1012.28 1088.36 L1012.98 1089.66 L1013.59 1090.96 L1014.06 1092.26 L1014.36 1093.56 L1014.45 1094.86 L1014.33 1096.16 L1014 1097.46 L1013.5 1098.76 L1012.87 1100.06 L1012.17 1101.36 L1011.45 1102.66 L1010.77 1103.96 L1010.21 1105.26 L1009.8 1106.56 L1009.58 1107.86 L1009.57 1109.16 L1009.78 1110.46 L1010.17 1111.76 L1010.73 1113.06 L1011.39 1114.36 L1012.11 1115.66 L1012.82 1116.96 L1013.46 1118.26 L1013.97 1119.56 L1014.31 1120.86 L1014.45 1122.16 L1014.37 1123.46 L1014.09 1124.76 L1013.63 1126.06 L1013.03 1127.36 L1012.33 1128.66 L1011.61 1129.96 L1010.92 1131.26 L1010.33 1132.56 L1009.88 1133.86 L1009.61 1135.16 L1009.56 1136.46 L1009.71 1137.76 L1010.06 1139.06 L1010.59 1140.36 L1011.23 1141.66 L1011.94 1142.96 L1012.66 1144.26 L1013.32 1145.56 L1013.86 1146.86 L1014.25 1148.16 L1014.43 1149.46 L1014.41 1150.76 L1014.18 1152.06 L1013.75 1153.36 L1013.18 1154.66 L1012.5 1155.96 L1011.78 1157.26 L1011.08 1158.56 L1010.45 1159.86 L1009.97 1161.16 L1009.66 1162.46 L1009.55 1163.76 L1009.66 1165.06 L1009.97 1166.36 L1010.45 1167.66 L1011.08 1168.96 L1011.78 1170.26 L1012.5 1171.56 L1013.18 1172.86 L1013.75 1174.16 L1014.18 1175.46 L1014.41 1176.76 L1014.43 1178.06 L1014.25 1179.36 L1013.86 1180.66 L1013.32 1181.96 L1012.66 1183.26 L1011.94 1184.56 L1011.23 1185.86 L1010.59 1187.16 L1010.06 1188.46 L1009.71 1189.76 L1009.56 1191.06 L1009.61 1192.36 L1009.88 1193.66 L1010.33 1194.96 L1010.92 1196.26 L1011.61 1197.56 L1012.33 1198.86 L1013.03 1200.16 L1013.63 1201.46 L1014.09 1202.76 L1014.37 1204.06 L1014.45 1205.36 L1014.31 1206.66 L1013.97 1207.96 L1013.46 1209.26 L1012.82 1210.56 L1012.11 1211.86 L1011.39 1213.16 L1010.73 1214.46 L1010.17 1215.76 L1009.78 1217.06 L1009.57 1218.36 L1009.58 1219.66 L1009.79 1220.78 L1010.05 1221.88 L1010.3 1222.95 L1010.29 1224.2 L1009.81 1225.56 L1008.78 1226.79 L1007.48 1227.71 L1005.97 1228.3 L1004.67 1228.63 L1003.37 1228.75 L1002.07 1228.66 L1000.77 1228.36 L999.47 1227.89 L998.17 1227.28 L996.87 1226.58 L995.57 1225.86 L994.27 1225.17 L992.97 1224.59 L991.67 1224.15 L990.37 1223.9 L989.07 1223.86 L987.77 1224.03 L986.47 1224.4 L985.17 1224.93 L983.87 1225.59 L982.57 1226.3 L981.27 1227.01 L979.97 1227.67 L978.67 1228.2 L977.37 1228.57 L976.07 1228.74 L975 1228.72 M782 943 L783.3 942.29 L784.6 941.63 L785.9 941.1 L787.2 940.73 L788.5 940.56 L789.8 940.6 L791.1 940.85 L792.4 941.29 L793.7 941.87 L795 942.56 L796.3 943.28 L797.6 943.98 L798.9 944.59 L800.2 945.06 L801.5 945.36 L802.8 945.45 L804.1 945.33 L805.4 945 L806.7 944.5 L808 943.87 L809.3 943.17 L810.6 942.45 L811.9 941.77 L813.2 941.21 L814.5 940.8 L815.8 940.58 L817.1 940.57 L818.4 940.78 L819.7 941.17 L821 941.73 L822.3 942.39 L823.6 943.11 L824.9 943.82 L826.2 944.46 L827.5 944.97 L828.8 945.31 L830.1 945.45 L831.4 945.37 L832.7 945.09 L834 944.63 L835.3 944.03 L836.6 943.33 L837.9 942.61 L839.2 941.92 L840.5 941.33 L841.8 940.88 L843.1 940.61 L844.4 940.56 L845.7 940.71 L847 941.06 L848.3 941.59 L849.6 942.23 L850.9 942.94 L852.2 943.66 L853.5 944.32 L854.8 944.86 L856.1 945.25 L857.4 945.43 L858.7 945.41 L860 945.18 L861.3 944.75 L862.6 944.18 L863.9 943.5 L865.2 942.78 L866.5 942.08 L867.8 941.45 L869.1 940.97 L870.4 940.66 L871.7 940.55 L873 940.66 L874.3 940.97 L875.6 941.45 L876.9 942.08 L878.2 942.78 L879.5 943.5 L880.8 944.18 L882.1 944.75 L883.4 945.18 L884.7 945.41 L886 945.43 L887.3 945.25 L888.6 944.86 L889.9 944.32 L891.2 943.66 L892.5 942.94 L893.8 942.23 L895.1 941.59 L896.4 941.06 L897.7 940.71 L899 940.56 L900.3 940.61 L901.6 940.88 L902.9 941.33 L904.2 941.92 L905.5 942.61 L906.8 943.33 L908.1 944.03 L909.4 944.63 L910.7 945.09 L912 945.37 L913.3 945.45 L914.6 945.31 L915.9 944.97 L917.2 944.46 L918.5 943.82 L919.8 943.11 L921.1 942.39 L922.4 941.73 L923.7 941.17 L925 940.78 L926.3 940.57 L927.6 940.58 L928.9 940.8 L930.2 941.21 L931.5 941.77 L932.8 942.45 L934.1 943.17 L935.4 943.87 L936.7 944.5 L938 945 L939.3 945.33 L940.6 945.45 L941.9 945.36 L943.2 945.06 L944.5 944.59 L945.8 943.98 L947.1 943.28 L948.4 942.56 L949.7 941.87 L951 941.29 L952.3 940.85 L953.6 940.6 L954.9 940.56 L956.2 940.73 L957.5 941.1 L958.8 941.63 L960.1 942.29 L961.4 943 L962.7 943.71 L964 944.37 L965.3 944.9 L966.6 945.27 L967.9 945.44 L969.2 945.4 L970.5 945.15 L971.8 944.71 L973.1 944.13 L974.4 943.44 L975.7 942.72 L977 942.02 L978.3 941.41 L979.6 940.94 L980.9 940.64 L982.2 940.55 L983.5 940.67 L984.8 941 L986.1 941.5 L987.4 942.13 L988.7 942.83 L990 943.55 L991.3 944.23 L992.6 944.79 L993.9 945.2 L995.2 945.42 L996.5 945.43 L997.8 945.22 L999.1 944.83 L1000.4 944.27 L1001.7 943.61 L1003 942.89 L1004.3 942.18 L1005.6 941.54 L1007.06 941.08 L1008.82 941.03 L1010.46 941.5 L1012.04 942.69 L1013.03 944.41 L1013.28 946.23 L1012.97 947.88 L1012.33 949.26 L1011.61 950.56 L1010.92 951.86 L1010.33 953.16 L1009.88 954.46 L1009.61 955.76 L1009.56 957.06 L1009.71 958.36 L1010.06 959.66 L1010.59 960.96 L1011.23 962.26 L1011.94 963.56 L1012.66 964.86 L1013.32 966.16 L1013.86 967.46 L1014.25 968.76 L1014.43 970.06 L1014.41 971.36 L1014.18 972.66 L1013.75 973.96 L1013.18 975.26 L1012.5 976.56 L1011.78 977.86 L1011.08 979.16 L1010.45 980.46 L1009.97 981.76 L1009.66 983.06 L1009.55 984.36 L1009.66 985.66 L1009.97 986.96 L1010.45 988.26 L1011.08 989.56 L1011.78 990.86 L1012.5 992.16 L1013.18 993.46 L1013.75 994.76 L1014.18 996.06 L1014.41 997.36 L1014.43 998.66 L1014.25 999.96 L1013.86 1001.26 L1013.32 1002.56 L1012.66 1003.86 L1011.94 1005.16 L1011.23 1006.46 L1010.59 1007.76 L1010.06 1009.06 L1009.71 1010.36 L1009.56 1011.66 L1009.61 1012.96 L1009.88 1014.26 L1010.33 1015.56 L1010.92 1016.86 L1011.61 1018.16 L1012.33 1019.46 L1013.03 1020.76 L1013.63 1022.06 L1014.09 1023.36 L1014.37 1024.66 L1014.45 1025.96 L1014.31 1027.26 L1013.97 1028.56 L1013.46 1029.86 L1012.82 1031.16 L1012.11 1032.46 L1011.39 1033.76 L1010.73 1035.06 L1010.17 1036.36 L1009.78 1037.66 L1009.57 1038.96 L1009.58 1040.26 L1009.8 1041.56 L1010.21 1042.86 L1010.78 1044.16 L1011.45 1045.46 L1012.17 1046.76 L1012.87 1048.06 L1013.5 1049.36 L1014 1050.66 L1014.33 1051.96 L1014.45 1053.26 L1014.36 1054.56 L1014.06 1055.86 L1013.59 1057.16 L1012.98 1058.46 L1012.28 1059.76 L1011.56 1061.06 L1010.87 1062.36 L1010.29 1063.66 L1009.85 1064.96 L1009.6 1066.26 L1009.56 1067.56 L1009.73 1068.86 L1010.1 1070.16 L1010.63 1071.46 L1011.29 1072.76 L1012 1074.06 L1012.71 1075.36 L1013.37 1076.66 L1013.9 1077.96 L1014.27 1079.26 L1014.44 1080.56 L1014.4 1081.86 L1014.15 1083.16 L1013.71 1084.46 L1013.13 1085.76 L1012.44 1087.06 L1011.72 1088.36 L1011.02 1089.66 L1010.41 1090.96 L1009.94 1092.26 L1009.64 1093.56 L1009.55 1094.86 L1009.67 1096.16 L1010 1097.46 L1010.5 1098.76 L1011.13 1100.06 L1011.83 1101.36 L1012.55 1102.66 L1013.23 1103.96 L1013.79 1105.26 L1014.2 1106.56 L1014.42 1107.86 L1014.43 1109.16 L1014.22 1110.46 L1013.83 1111.76 L1013.27 1113.06 L1012.61 1114.36 L1011.89 1115.66 L1011.18 1116.96 L1010.54 1118.26 L1010.03 1119.56 L1009.69 1120.86 L1009.55 1122.16 L1009.63 1123.46 L1009.91 1124.76 L1010.37 1126.06 L1010.97 1127.36 L1011.67 1128.66 L1012.39 1129.96 L1013.08 1131.26 L1013.67 1132.56 L1014.12 1133.86 L1014.39 1135.16 L1014.44 1136.46 L1014.29 1137.76 L1013.94 1139.06 L1013.41 1140.36 L1012.77 1141.66 L1012.06 1142.96 L1011.34 1144.26 L1010.68 1145.56 L1010.14 1146.86 L1009.75 1148.16 L1009.57 1149.46 L1009.59 1150.76 L1009.82 1152.06 L1010.25 1153.36 L1010.82 1154.66 L1011.5 1155.96 L1012.22 1157.26 L1012.92 1158.56 L1013.55 1159.86 L1014.03 1161.16 L1014.34 1162.46 L1014.45 1163.76 L1014.34 1165.06 L1014.03 1166.36 L1013.55 1167.66 L1012.92 1168.96 L1012.22 1170.26 L1011.5 1171.56 L1010.82 1172.86 L1010.25 1174.16 L1009.82 1175.46 L1009.59 1176.76 L1009.57 1178.06 L1009.75 1179.36 L1010.14 1180.66 L1010.68 1181.96 L1011.34 1183.26 L1012.06 1184.56 L1012.77 1185.86 L1013.41 1187.16 L1013.94 1188.46 L1014.29 1189.76 L1014.44 1191.06 L1014.39 1192.36 L1014.12 1193.66 L1013.67 1194.96 L1013.08 1196.26 L1012.39 1197.56 L1011.67 1198.86 L1010.97 1200.16 L1010.37 1201.46 L1009.91 1202.76 L1009.63 1204.06 L1009.55 1205.36 L1009.69 1206.66 L1010.03 1207.96 L1010.54 1209.26 L1011.18 1210.56 L1011.89 1211.86 L1012.61 1213.16 L1013.27 1214.46 L1013.83 1215.76 L1014.22 1217.06 L1014.43 1218.36 L1014.42 1219.66 L1014.17 1221.14 L1013.56 1222.62 L1012.51 1224.01 L1011.11 1224.94 L1009.63 1225.27 L1008.3 1225.11 L1007.06 1224.73 L1005.97 1224.3 L1004.67 1223.97 L1003.37 1223.85 L1002.07 1223.94 L1000.77 1224.24 L999.47 1224.71 L998.17 1225.32 L996.87 1226.02 L995.57 1226.74 L994.27 1227.43 L992.97 1228.01 L991.67 1228.45 L990.37 1228.7 L989.07 1228.74 L987.77 1228.57 L986.47 1228.2 L985.17 1227.67 L983.87 1227.01 L982.57 1226.3 L981.27 1225.59 L979.97 1224.93 L978.67 1224.4 L977.37 1224.03 L976.07 1223.86 L975 1223.88" fill="none" stroke="#2b2b2b" stroke-width="0.7" stroke-linejoin="round"/>
<path d="M782 947.6 L783.3 948.31 L784.6 948.97 L785.9 949.5 L787.2 949.87 L788.5 950.04 L789.8 950 L791.1 949.75 L792.4 949.31 L793.7 948.73 L795 948.04 L796.3 947.32 L797.6 946.62 L798.9 946.01 L800.2 945.54 L801.5 945.24 L802.8 945.15 L804.1 945.27 L805.4 945.6 L806.7 946.1 L808 946.73 L809.3 947.43 L810.6 948.15 L811.9 948.83 L813.2 949.39 L814.5 949.8 L815.74 950.03 L816.75 950.13 L817.56 950.14 L818.4 950.14 L819.38 950.34 L820.46 950.93 L821.48 951.95 L822.31 953.24 L822.96 954.56 L823.47 955.86 L823.81 957.16 L823.95 958.46 L823.87 959.76 L823.59 961.06 L823.13 962.36 L822.53 963.66 L821.83 964.96 L821.11 966.26 L820.42 967.56 L819.83 968.86 L819.38 970.16 L819.11 971.46 L819.06 972.76 L819.21 974.06 L819.56 975.36 L820.09 976.66 L820.73 977.96 L821.44 979.26 L822.16 980.56 L822.82 981.86 L823.36 983.16 L823.75 984.46 L823.93 985.76 L823.91 987.06 L823.68 988.36 L823.25 989.66 L822.68 990.96 L822 992.26 L821.28 993.56 L820.58 994.86 L819.95 996.16 L819.47 997.46 L819.16 998.76 L819.05 1000.06 L819.16 1001.36 L819.47 1002.66 L819.95 1003.96 L820.58 1005.26 L821.28 1006.56 L822 1007.86 L822.68 1009.16 L823.25 1010.46 L823.68 1011.76 L823.91 1013.06 L823.93 1014.36 L823.75 1015.66 L823.36 1016.96 L822.82 1018.26 L822.16 1019.56 L821.44 1020.86 L820.73 1022.16 L820.09 1023.46 L819.56 1024.76 L819.21 1026.06 L819.06 1027.36 L819.11 1028.66 L819.38 1029.96 L819.83 1031.26 L820.42 1032.56 L821.11 1033.86 L821.83 1035.16 L822.53 1036.46 L823.13 1037.76 L823.59 1039.06 L823.87 1040.36 L823.95 1041.66 L823.81 1042.96 L823.47 1044.26 L822.96 1045.56 L822.32 1046.86 L821.61 1048.16 L820.89 1049.46 L820.23 1050.76 L819.67 1052.06 L819.28 1053.36 L819.07 1054.66 L819.08 1055.96 L819.3 1057.26 L819.71 1058.56 L820.27 1059.86 L820.95 1061.16 L821.67 1062.46 L822.37 1063.76 L823 1065.06 L823.5 1066.36 L823.83 1067.66 L823.95 1068.96 L823.86 1070.26 L823.56 1071.56 L823.09 1072.86 L822.48 1074.16 L821.78 1075.46 L821.06 1076.76 L820.37 1078.06 L819.79 1079.36 L819.35 1080.66 L819.1 1081.96 L819.06 1083.26 L819.23 1084.56 L819.6 1085.86 L820.13 1087.16 L820.79 1088.46 L821.5 1089.76 L822.21 1091.06 L822.87 1092.36 L823.4 1093.66 L823.77 1094.96 L823.94 1096.26 L823.9 1097.56 L823.65 1098.86 L823.21 1100.16 L822.63 1101.46 L821.94 1102.76 L821.22 1104.06 L820.52 1105.36 L819.91 1106.66 L819.44 1107.96 L819.14 1109.26 L819.05 1110.56 L819.17 1111.86 L819.5 1113.16 L820 1114.46 L820.63 1115.76 L821.33 1117.06 L822.05 1118.36 L822.73 1119.66 L823.29 1120.96 L823.7 1122.26 L823.92 1123.56 L823.93 1124.86 L823.72 1126.16 L823.33 1127.46 L822.77 1128.76 L822.11 1130.06 L821.39 1131.36 L820.68 1132.66 L820.04 1133.96 L819.53 1135.26 L819.19 1136.56 L819.05 1137.86 L819.13 1139.16 L819.41 1140.46 L819.87 1141.76 L820.47 1143.06 L821.17 1144.36 L821.89 1145.66 L822.58 1146.96 L823.17 1148.26 L823.62 1149.56 L823.89 1150.86 L823.94 1152.16 L823.79 1153.46 L823.44 1154.76 L822.91 1156.06 L822.27 1157.36 L821.56 1158.66 L820.84 1159.96 L820.18 1161.26 L819.64 1162.56 L819.25 1163.86 L819.07 1165.16 L819.09 1166.46 L819.32 1167.76 L819.75 1169.06 L820.32 1170.36 L821 1171.66 L821.72 1172.96 L822.42 1174.26 L823.05 1175.56 L823.53 1176.86 L823.84 1178.16 L823.95 1179.46 L823.84 1180.76 L823.53 1182.06 L823.05 1183.36 L822.42 1184.66 L821.72 1185.96 L821 1187.26 L820.32 1188.56 L819.75 1189.86 L819.32 1191.16 L819.09 1192.46 L819.07 1193.76 L819.25 1195.06 L819.64 1196.36 L820.18 1197.66 L820.84 1198.96 L821.56 1200.26 L822.27 1201.56 L822.91 1202.86 L823.44 1204.16 L823.79 1205.46 L823.94 1206.76 L823.89 1208.06 L823.62 1209.36 L823.17 1210.66 L822.58 1211.96 L821.89 1213.26 L821.17 1214.56 L820.47 1215.86 L819.87 1217.16 L819.41 1218.46 L819.13 1219.76 L819.05 1221.06 L819.19 1222.36 L819.48 1223.5 L819.81 1224.53 L820.02 1225.72 L819.85 1227.08 L819.14 1228.46 L817.92 1229.61 L816.52 1230.38 L815.07 1230.82 L813.77 1231.03 L812.47 1231.02 L811.17 1230.8 L809.87 1230.39 L808.57 1229.82 L807.27 1229.15 L805.97 1228.43 L804.67 1227.73 L803.37 1227.1 L802.07 1226.6 L800.77 1226.27 L799.47 1226.15 L798.17 1226.24 L796.87 1226.54 L795.57 1227.01 L794.27 1227.62 L792.97 1228.32 L791.67 1229.04 L790.37 1229.73 L789.07 1230.31 L787.77 1230.75 L786.47 1231 L785.17 1231.04 L783.87 1230.87 L782.57 1230.5 L781.27 1229.97 L779.97 1229.31 L778.67 1228.6 L777.37 1227.89 L776.07 1227.23 L774.77 1226.7 L773.47 1226.33 L772.17 1226.16 L770.87 1226.2 L769.57 1226.45 L768.27 1226.89 L766.97 1227.47 L765.67 1228.16 L764.37 1228.88 L763.07 1229.58 L761.77 1230.19 L760.47 1230.66 L759.17 1230.96 L757.87 1231.05 L756.57 1230.93 L755.27 1230.6 L753.97 1230.1 L752.67 1229.47 L751.37 1228.77 L750.07 1228.05 L748.77 1227.37 L747.47 1226.81 L746.17 1226.4 L744.87 1226.18 L743.57 1226.17 L742.27 1226.38 L740.97 1226.77 L739.67 1227.33 L738.37 1227.99 L737.07 1228.71 L735.77 1229.42 L734.47 1230.06 L733.17 1230.57 L731.87 1230.91 L730.57 1231.05 L729.27 1230.97 L727.97 1230.69 L726.67 1230.23 L725.37 1229.63 L724.07 1228.93 L722.77 1228.21 L721.47 1227.52 L720.17 1226.93 L718.87 1226.48 L717.57 1226.21 L716.27 1226.16 L714.97 1226.31 L713.67 1226.66 L712.37 1227.19 L711.07 1227.83 L709.77 1228.54 L708.47 1229.26 L707.17 1229.92 L705.87 1230.46 L704.57 1230.85 L703.27 1231.03 L701.97 1231.01 L700.67 1230.78 L699.37 1230.35 L698.07 1229.78 L696.77 1229.1 L695.47 1228.38 L694.17 1227.68 L693.8 1227.49 M782 947.6 L783.3 946.89 L784.6 946.23 L785.9 945.7 L787.2 945.33 L788.5 945.16 L789.8 945.2 L791.1 945.45 L792.4 945.89 L793.7 946.47 L795 947.16 L796.3 947.88 L797.6 948.58 L798.9 949.19 L800.2 949.66 L801.5 949.96 L802.8 950.05 L804.1 949.93 L805.4 949.6 L806.7 949.1 L808 948.47 L809.3 947.77 L810.6 947.05 L811.9 946.38 L813.2 945.81 L814.5 945.4 L815.86 945.19 L817.44 945.32 L819.14 945.98 L820.58 947.2 L821.43 948.82 L821.6 950.5 L821.26 951.99 L820.67 953.28 L820.04 954.56 L819.53 955.86 L819.19 957.16 L819.05 958.46 L819.13 959.76 L819.41 961.06 L819.87 962.36 L820.47 963.66 L821.17 964.96 L821.89 966.26 L822.58 967.56 L823.17 968.86 L823.62 970.16 L823.89 971.46 L823.94 972.76 L823.79 974.06 L823.44 975.36 L822.91 976.66 L822.27 977.96 L821.56 979.26 L820.84 980.56 L820.18 981.86 L819.64 983.16 L819.25 984.46 L819.07 985.76 L819.09 987.06 L819.32 988.36 L819.75 989.66 L820.32 990.96 L821 992.26 L821.72 993.56 L822.42 994.86 L823.05 996.16 L823.53 997.46 L823.84 998.76 L823.95 1000.06 L823.84 1001.36 L823.53 1002.66 L823.05 1003.96 L822.42 1005.26 L821.72 1006.56 L821 1007.86 L820.32 1009.16 L819.75 1010.46 L819.32 1011.76 L819.09 1013.06 L819.07 1014.36 L819.25 1015.66 L819.64 1016.96 L820.18 1018.26 L820.84 1019.56 L821.56 1020.86 L822.27 1022.16 L822.91 1023.46 L823.44 1024.76 L823.79 1026.06 L823.94 1027.36 L823.89 1028.66 L823.62 1029.96 L823.17 1031.26 L822.58 1032.56 L821.89 1033.86 L821.17 1035.16 L820.47 1036.46 L819.87 1037.76 L819.41 1039.06 L819.13 1040.36 L819.05 1041.66 L819.19 1042.96 L819.53 1044.26 L820.04 1045.56 L820.68 1046.86 L821.39 1048.16 L822.11 1049.46 L822.77 1050.76 L823.33 1052.06 L823.72 1053.36 L823.93 1054.66 L823.92 1055.96 L823.7 1057.26 L823.29 1058.56 L822.73 1059.86 L822.05 1061.16 L821.33 1062.46 L820.63 1063.76 L820 1065.06 L819.5 1066.36 L819.17 1067.66 L819.05 1068.96 L819.14 1070.26 L819.44 1071.56 L819.91 1072.86 L820.52 1074.16 L821.22 1075.46 L821.94 1076.76 L822.63 1078.06 L823.21 1079.36 L823.65 1080.66 L823.9 1081.96 L823.94 1083.26 L823.77 1084.56 L823.4 1085.86 L822.87 1087.16 L822.21 1088.46 L821.5 1089.76 L820.79 1091.06 L820.13 1092.36 L819.6 1093.66 L819.23 1094.96 L819.06 1096.26 L819.1 1097.56 L819.35 1098.86 L819.79 1100.16 L820.37 1101.46 L821.06 1102.76 L821.78 1104.06 L822.48 1105.36 L823.09 1106.66 L823.56 1107.96 L823.86 1109.26 L823.95 1110.56 L823.83 1111.86 L823.5 1113.16 L823 1114.46 L822.37 1115.76 L821.67 1117.06 L820.95 1118.36 L820.27 1119.66 L819.71 1120.96 L819.3 1122.26 L819.08 1123.56 L819.07 1124.86 L819.28 1126.16 L819.67 1127.46 L820.23 1128.76 L820.89 1130.06 L821.61 1131.36 L822.32 1132.66 L822.96 1133.96 L823.47 1135.26 L823.81 1136.56 L823.95 1137.86 L823.87 1139.16 L823.59 1140.46 L823.13 1141.76 L822.53 1143.06 L821.83 1144.36 L821.11 1145.66 L820.42 1146.96 L819.83 1148.26 L819.38 1149.56 L819.11 1150.86 L819.06 1152.16 L819.21 1153.46 L819.56 1154.76 L820.09 1156.06 L820.73 1157.36 L821.44 1158.66 L822.16 1159.96 L822.82 1161.26 L823.36 1162.56 L823.75 1163.86 L823.93 1165.16 L823.91 1166.46 L823.68 1167.76 L823.25 1169.06 L822.68 1170.36 L822 1171.66 L821.28 1172.96 L820.58 1174.26 L819.95 1175.56 L819.47 1176.86 L819.16 1178.16 L819.05 1179.46 L819.16 1180.76 L819.47 1182.06 L819.95 1183.36 L820.58 1184.66 L821.28 1185.96 L822 1187.26 L822.68 1188.56 L823.25 1189.86 L823.68 1191.16 L823.91 1192.46 L823.93 1193.76 L823.75 1195.06 L823.36 1196.36 L822.82 1197.66 L822.16 1198.96 L821.44 1200.26 L820.73 1201.56 L820.09 1202.86 L819.56 1204.16 L819.21 1205.46 L819.06 1206.76 L819.11 1208.06 L819.38 1209.36 L819.83 1210.66 L820.42 1211.96 L821.11 1213.26 L821.83 1214.56 L822.53 1215.86 L823.13 1217.16 L823.59 1218.46 L823.87 1219.76 L823.95 1221.06 L823.81 1222.36 L823.41 1223.82 L822.61 1225.34 L821.42 1226.56 L820 1227.25 L818.61 1227.36 L817.39 1227.12 L816.22 1226.74 L815.07 1226.38 L813.77 1226.17 L812.47 1226.18 L811.17 1226.4 L809.87 1226.81 L808.57 1227.38 L807.27 1228.05 L805.97 1228.77 L804.67 1229.47 L803.37 1230.1 L802.07 1230.6 L800.77 1230.93 L799.47 1231.05 L798.17 1230.96 L796.87 1230.66 L795.57 1230.19 L794.27 1229.58 L792.97 1228.88 L791.67 1228.16 L790.37 1227.47 L789.07 1226.89 L787.77 1226.45 L786.47 1226.2 L785.17 1226.16 L783.87 1226.33 L782.57 1226.7 L781.27 1227.23 L779.97 1227.89 L778.67 1228.6 L777.37 1229.31 L776.07 1229.97 L774.77 1230.5 L773.47 1230.87 L772.17 1231.04 L770.87 1231 L769.57 1230.75 L768.27 1230.31 L766.97 1229.73 L765.67 1229.04 L764.37 1228.32 L763.07 1227.62 L761.77 1227.01 L760.47 1226.54 L759.17 1226.24 L757.87 1226.15 L756.57 1226.27 L755.27 1226.6 L753.97 1227.1 L752.67 1227.73 L751.37 1228.43 L750.07 1229.15 L748.77 1229.83 L747.47 1230.39 L746.17 1230.8 L744.87 1231.02 L743.57 1231.03 L742.27 1230.82 L740.97 1230.43 L739.67 1229.87 L738.37 1229.21 L737.07 1228.49 L735.77 1227.78 L734.47 1227.14 L733.17 1226.63 L731.87 1226.29 L730.57 1226.15 L729.27 1226.23 L727.97 1226.51 L726.67 1226.97 L725.37 1227.57 L724.07 1228.27 L722.77 1228.99 L721.47 1229.68 L720.17 1230.27 L718.87 1230.72 L717.57 1230.99 L716.27 1231.04 L714.97 1230.89 L713.67 1230.54 L712.37 1230.01 L711.07 1229.37 L709.77 1228.66 L708.47 1227.94 L707.17 1227.28 L705.87 1226.74 L704.57 1226.35 L703.27 1226.17 L701.97 1226.19 L700.67 1226.42 L699.37 1226.85 L698.07 1227.42 L696.77 1228.1 L695.47 1228.82 L694.17 1229.52 L693.8 1229.71" fill="none" stroke="#2b2b2b" stroke-width="0.7" stroke-linejoin="round"/>
</svg>
</body></html>
